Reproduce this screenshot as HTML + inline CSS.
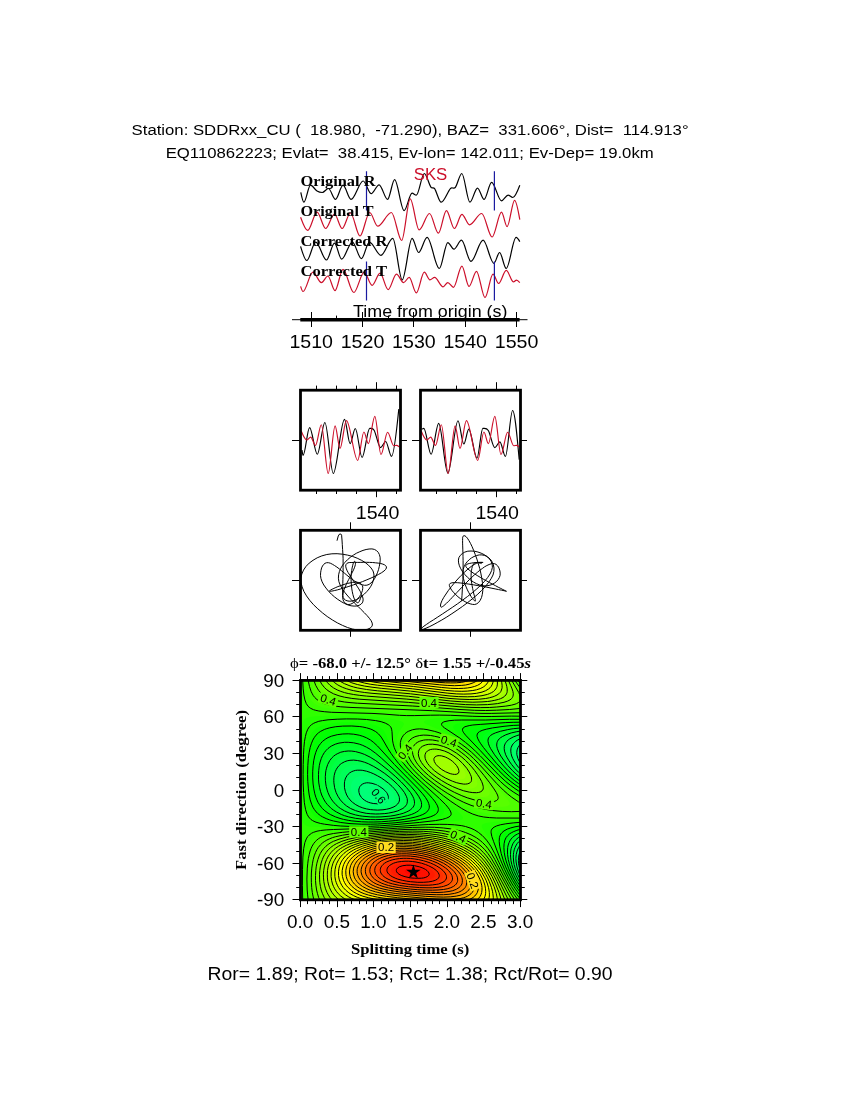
<!DOCTYPE html>
<html lang="en"><head><meta charset="utf-8"><title>SKS splitting SDDRxx_CU</title>
<style>
html,body{margin:0;padding:0;background:#fff}
body{width:850px;height:1100px;overflow:hidden}
svg{display:block}
text{white-space:pre}
</style></head><body>
<svg width="850" height="1100" viewBox="0 0 850 1100">
<rect width="850" height="1100" fill="#fff"/>
<g font-family='"Liberation Sans", sans-serif' fill="#000">
<text xml:space="preserve" x="131.6" y="134.5" font-size="15.4" textLength="557" lengthAdjust="spacingAndGlyphs">Station: SDDRxx_CU (  18.980,  -71.290), BAZ=  331.606°, Dist=  114.913°</text>
<text xml:space="preserve" x="165.7" y="157.7" font-size="15.4" textLength="488" lengthAdjust="spacingAndGlyphs">EQ110862223; Evlat=  38.415, Ev-lon= 142.011; Ev-Dep= 19.0km</text>
</g>
<g fill="none" stroke-width="1.2" stroke-linejoin="round">
<path stroke="#000" d="M300.8 192.3C301.8 197.2 302.9 202.2 303.9 202.2C306.1 202.2 308.3 185.2 310.5 185.2C312.7 185.2 314.8 189.7 317 191C318.8 192.1 320.5 192.5 322.3 192.5C324.3 192.5 326.4 188.5 328.4 188.5C330.8 188.5 333.1 199.4 335.5 199.4C338 199.4 340.5 185.2 343 185.2C345.7 185.2 348.3 199.4 351 199.4C355.1 199.4 359.1 181 363.2 181C365.8 181 368.5 193.7 371.1 193.7C373.8 193.7 376.4 184.8 379.1 184.8C381.9 184.8 384.8 199.4 387.6 199.4C389.9 199.4 392.3 179.6 394.6 179.6C397.8 179.6 400.9 210.6 404.1 210.6C406.8 210.6 409.4 193.2 412.1 193.2C413.5 193.2 414.9 195.1 416.3 195.1C419 195.1 421.6 173.5 424.3 173.5C426.5 173.5 428.7 183.9 430.9 187.1C432.1 188.9 433.4 186.8 434.6 188.6C436.8 191.8 439 202.2 441.2 202.2C444.3 202.2 447.5 191.6 450.6 188.3C452.2 186.6 453.8 189.5 455.4 187.4C457.5 184.6 459.7 173.5 461.8 173.5C464.5 173.5 467.2 202.2 469.9 202.2C472.4 202.2 475 188.1 477.5 188.1C479.7 188.1 481.9 199.4 484.1 199.4C486.6 199.4 489.1 182.4 491.6 182.4C494.9 182.4 498.2 200.8 501.5 200.8C503.7 200.8 505.9 195.1 508.1 195.1C509.7 195.1 511.2 197.5 512.8 197.5C515.1 197.5 517.5 191.3 519.8 185.2"/>
<path stroke="#cc0f2a" d="M300.6 217.2C303 223.8 305.3 230.4 307.7 230.4C310.8 230.4 314 212.1 317.1 212.1C319.9 212.1 322.8 228.5 325.6 228.5C328.6 228.5 331.5 214 334.5 214C337 214 339.6 228.5 342.1 228.5C344.9 228.5 347.7 213 350.5 213C353.7 213 356.8 236 360 236C363.2 236 366.5 212.5 369.7 212.5C372.4 212.5 375 226.2 377.7 226.2C382.3 226.2 386.8 212.5 391.4 212.5C394.8 212.5 398.3 240.5 401.7 240.5C404.5 240.5 407.4 198.9 410.2 198.9C413.2 198.9 416.1 229.9 419.1 229.9C422.6 229.9 426 213.5 429.5 213.5C432.5 213.5 435.4 233.2 438.4 233.2C441.1 233.2 443.7 210.6 446.4 210.6C449.1 210.6 451.7 228.5 454.4 228.5C456.9 228.5 459.4 214.4 461.9 214.4C464.4 214.4 467 224.8 469.5 224.8C473.6 224.8 477.6 213.5 481.7 213.5C485.2 213.5 488.6 237 492.1 237C495.2 237 498.4 212.1 501.5 212.1C503.4 212.1 505.2 226.6 507.1 226.6C509.6 226.6 512.1 200.3 514.6 200.3C516.3 200.3 518.1 209.9 519.8 219.6"/>
<path stroke="#000" d="M300.6 246.4C302.7 253.5 304.7 260.5 306.8 260.5C309.8 260.5 312.7 242.1 315.7 242.1C319.3 242.1 322.9 260 326.5 260C329.2 260 331.8 243.1 334.5 243.1C336.9 243.1 339.2 259.1 341.6 259.1C345.2 259.1 348.8 242.1 352.4 242.1C355.4 242.1 358.4 258.6 361.4 258.6C364.1 258.6 366.7 242.1 369.4 242.1C373.3 242.1 377.1 255.3 381 255.3C384.9 255.3 388.9 238.4 392.8 238.4C395.9 238.4 399.1 279.8 402.2 279.8C405.5 279.8 408.8 238.4 412.1 238.4C414.3 238.4 416.4 252.5 418.6 252.5C421.4 252.5 424.3 237.4 427.1 237.4C431.2 237.4 435.2 268.5 439.3 268.5C442.1 268.5 445 242.6 447.8 242.6C449.8 242.6 451.9 249.2 453.9 249.2C456.4 249.2 459 240.2 461.5 240.2C464.6 240.2 467.8 261.4 470.9 261.4C475 261.4 479 240.2 483.1 240.2C486.7 240.2 490.3 263.3 493.9 263.3C495.8 263.3 497.7 252.5 499.6 252.5C501.8 252.5 504 268.5 506.2 268.5C509.5 268.5 512.8 237.4 516.1 237.4C517.3 237.4 518.6 239.5 519.8 241.6"/>
<path stroke="#cc0f2a" d="M300.6 286.4C301.4 288.9 302.2 291.5 303 291.5C306.3 291.5 309.6 272.2 312.9 272.2C315.7 272.2 318.6 282.6 321.4 282.6C323.6 282.6 325.7 276 327.9 276C330.3 276 332.6 290.6 335 290.6C337.7 290.6 340.3 269.4 343 269.4C346.6 269.4 350.2 292.5 353.8 292.5C357.3 292.5 360.7 272.2 364.2 272.2C366.8 272.2 369.5 285.4 372.1 285.4C374.8 285.4 377.4 273.2 380.1 273.2C382.8 273.2 385.4 289.6 388.1 289.6C390.9 289.6 393.7 274.1 396.5 274.1C398.9 274.1 401.2 282.6 403.6 282.6C405.5 282.6 407.3 277.4 409.2 277.4C411.6 277.4 413.9 292.9 416.3 292.9C419 292.9 421.6 272.2 424.3 272.2C426.2 272.2 428 279.8 429.9 279.8C431.5 279.8 433 277.4 434.6 277.4C437.4 277.4 440.3 286.8 443.1 286.8C444.7 286.8 446.2 282.6 447.8 282.6C449.7 282.6 451.6 287.3 453.5 287.3C456.3 287.3 459.1 266.1 461.9 266.1C464.3 266.1 466.6 286.4 469 286.4C471.5 286.4 474 271.3 476.5 271.3C479.3 271.3 482.2 297.6 485 297.6C487.7 297.6 490.3 274.1 493 274.1C494.9 274.1 496.7 283.5 498.6 283.5C501.1 283.5 503.7 270.4 506.2 270.4C508.4 270.4 510.6 279.5 512.8 281.6C514 282.8 515.3 280.2 516.5 280.2C517.6 280.2 518.7 281.4 519.8 282.6"/>
</g>
<g stroke="#1a1aa0" stroke-width="1.2">
<path d="M366.5 171.2V210.5M366.5 261.5V300.5"/>
<path d="M494.4 171.2V210.5M494.4 261.5V300.5"/>
</g>
<g font-family='"Liberation Serif", serif' font-weight="bold" font-size="15" fill="#000">
<text x="300.4" y="186.3" textLength="75.2" lengthAdjust="spacingAndGlyphs">Original R</text>
<text x="300.4" y="216.3" textLength="73.1" lengthAdjust="spacingAndGlyphs">Original T</text>
<text x="300.4" y="246.3" textLength="87" lengthAdjust="spacingAndGlyphs">Corrected R</text>
<text x="300.4" y="276.3" textLength="86.6" lengthAdjust="spacingAndGlyphs">Corrected T</text>
</g>
<text x="413.7" y="179.6" font-family='"Liberation Sans", sans-serif' font-size="16" fill="#cc0f2a" textLength="33.6" lengthAdjust="spacingAndGlyphs">SKS</text>
<g stroke="#000" fill="none">
<path stroke-width="1" d="M292 319.7H527.5"/>
<path stroke-width="3.6" d="M300.3 319.7H519.6"/>
<path stroke-width="1" d="M311.5 312V327M362.5 312V327M413.5 312V327M465.5 312V327M516.5 312V327M336.5 315.6V319.7M388.5 315.6V319.7M439.5 315.6V319.7M490.5 315.6V319.7"/>
</g>
<g font-family='"Liberation Sans", sans-serif' fill="#000">
<text x="353" y="316.5" font-size="16.2" textLength="154.5" lengthAdjust="spacingAndGlyphs">Time from origin (s)</text>
<text x="311.2" y="348.4" font-size="19" text-anchor="middle" textLength="43.6" lengthAdjust="spacingAndGlyphs">1510</text>
<text x="362.5" y="348.4" font-size="19" text-anchor="middle" textLength="43.6" lengthAdjust="spacingAndGlyphs">1520</text>
<text x="413.9" y="348.4" font-size="19" text-anchor="middle" textLength="43.6" lengthAdjust="spacingAndGlyphs">1530</text>
<text x="465.2" y="348.4" font-size="19" text-anchor="middle" textLength="43.6" lengthAdjust="spacingAndGlyphs">1540</text>
<text x="516.6" y="348.4" font-size="19" text-anchor="middle" textLength="43.6" lengthAdjust="spacingAndGlyphs">1550</text>
</g>
<path d="M316.5 390.2v-4.6M316.5 490.2v3.8M336.5 390.2v-4.6M336.5 490.2v3.8M356.5 390.2v-4.6M356.5 490.2v3.8M376.5 390.2v-8M376.5 490.2v7M396.5 390.2v-4.6M396.5 490.2v3.8M300.5 440.5h-8.5M400.5 440.5h6.5M350.5 530.3v-8M350.5 630.3v6.5M300.5 580.5h-8.5M400.5 580.5h6.5M436.5 390.2v-4.6M436.5 490.2v3.8M456.5 390.2v-4.6M456.5 490.2v3.8M476.5 390.2v-4.6M476.5 490.2v3.8M496.5 390.2v-8M496.5 490.2v7M516.5 390.2v-4.6M516.5 490.2v3.8M420.5 440.5h-8.5M520.5 440.5h6.5M470.5 530.3v-8M470.5 630.3v6.5M420.5 580.5h-8.5M520.5 580.5h6.5" stroke="#000" stroke-width="1" fill="none"/>
<g fill="none" stroke-width="1.15" stroke-linejoin="round">
<path stroke="#000" d="M302 450.2C302.4 452.8 302.7 455.3 303.1 455.3C305.3 455.3 307.4 427.6 309.6 427.6C312.2 427.6 314.7 454.2 317.3 454.2C319.8 454.2 322.4 422.5 324.9 422.5C327.7 422.5 330.5 473.5 333.3 473.5C337 473.5 340.8 419.3 344.5 419.3C346.4 419.3 348.2 443.6 350.1 443.6C351.8 443.6 353.6 428.5 355.3 428.5C357.6 428.5 359.8 457.5 362.1 457.5C364.6 457.5 367.2 428.4 369.7 428.4C371.2 428.4 372.6 427.6 374.1 430.2C376.3 434 378.4 447.6 380.6 447.6C382.3 447.6 384 441.5 385.7 441.5C387.6 441.5 389.6 456.4 391.5 456.4C393.9 456.4 396.4 432.8 398.8 409.1"/>
<path stroke="#cc0f2a" d="M301.3 431.3C303.1 435.6 304.9 440 306.7 440C308 440 309.4 437.1 310.7 437.1C312.3 437.1 313.9 445.5 315.5 445.5C317.4 445.5 319.4 424.7 321.3 424.7C323.6 424.7 325.9 473.5 328.2 473.5C330.5 473.5 332.8 425.8 335.1 425.8C336.7 425.8 338.4 448.5 340 448.5C342.1 448.5 344.3 420.6 346.4 420.6C350.2 420.6 353.9 460.4 357.7 460.4C359.8 460.4 361.8 432 363.9 432C365.4 432 366.9 443.6 368.4 443.6C370.5 443.6 372.7 416.4 374.8 416.4C376.9 416.4 378.9 454.5 381 454.5C383.2 454.5 385.4 432.2 387.6 432.2C389.6 432.2 391.7 445.7 393.7 445.7C394.7 445.7 395.6 445.3 396.6 445.3C397.5 445.3 398.3 446.1 399.2 446.8"/>
<path stroke="#000" d="M422 429.1C422.6 428.8 423.2 428.4 423.8 428.4C426.2 428.4 428.7 454.2 431.1 454.2C433.6 454.2 436.2 423.3 438.7 423.3C441.7 423.3 444.8 473.1 447.8 473.1C451.2 473.1 454.6 420.7 458 420.7C459.9 420.7 461.9 444 463.8 444C465.5 444 467.1 429.1 468.8 429.1C471.5 429.1 474.3 458.2 477 458.2C478.9 458.2 480.9 428.4 482.8 428.4C484.6 428.4 486.5 427.6 488.3 430.5C490.5 434 492.6 447.6 494.8 447.6C496.5 447.6 498.2 441.8 499.9 441.8C501.7 441.8 503.6 456.4 505.4 456.4C507.8 456.4 510.2 410.5 512.6 410.5C514.8 410.5 517 435.1 519.2 459.6"/>
<path stroke="#cc0f2a" d="M421.3 431.3C423.1 435.6 424.9 440 426.7 440C428 440 429.4 437.1 430.7 437.1C432.3 437.1 433.9 445.5 435.5 445.5C437.4 445.5 439.4 424.7 441.3 424.7C443.6 424.7 445.9 473.5 448.2 473.5C450.5 473.5 452.8 425.8 455.1 425.8C456.7 425.8 458.4 448.5 460 448.5C462.1 448.5 464.3 420.6 466.4 420.6C470.2 420.6 473.9 460.4 477.7 460.4C479.8 460.4 481.8 432 483.9 432C485.4 432 486.9 443.6 488.4 443.6C490.5 443.6 492.7 416.4 494.8 416.4C496.9 416.4 498.9 454.5 501 454.5C503.2 454.5 505.4 432.2 507.6 432.2C509.6 432.2 511.7 445.7 513.7 445.7C514.7 445.7 515.6 445.3 516.6 445.3C517.5 445.3 518.3 446.1 519.2 446.8"/>
<path stroke="#000" stroke-width="1" d="M361.6 595.2L360.5 598.5L359.3 601.3L358.2 602.7L357.2 602.7L356.2 602L355.2 600.8L354.4 599.1L353.6 597L352.9 594.5L352.3 591.8L351.8 588.9L351.5 585.8L351.2 582.7L351.1 579.5L351.1 576.4L351.3 573.4L351.7 570.6L352.1 568L352.6 565.8L353.1 563.9L353.6 562.5L354.2 561.6L354.6 561.3L355 561.5L355.3 562.1L355.4 563.1L355.4 564.4L355 566L354.4 567.8L353.5 569.9L352.4 572.1L351.2 574.5L350 576.9L348.7 579.5L347.4 582L346.2 584.6L345.1 587.1L344.2 589.5L343.4 591.8L343 593.9L342.9 595.8L343.2 597.5L344.1 599L345.4 600.1L347.1 600.8L349.2 601.2L351.5 601.1L354 600.5L356.6 599.5L359.3 598L361.9 596.2L364.4 594L366.8 591.6L369 589L370.9 586.2L372.4 583.2L373.4 580.1L374 577L373.9 574L373 570.9L371.1 568L368.5 565.2L365.3 562.6L361.5 560.3L357.2 558.2L352.5 556.4L347.5 555.1L342.4 554.2L337.1 553.7L331.9 553.8L326.8 554.5L321.8 555.9L317.2 557.8L313 560.3L309.2 563.1L306 566.4L303.5 570.1L301.8 574L300.9 578.1L301 582.4L302.1 586.9L303.9 591.4L306.5 595.9L309.7 600.3L313.5 604.7L317.8 608.8L322.4 612.8L327.2 616.5L332.3 619.9L337.4 622.9L342.5 625.4L347.5 627.5L352.3 629L356.8 629.9L360.9 630.1L364.6 629.9L367.6 629.2L370 628.2L371.6 626.8L372.4 625.1L372.2 623.1L371.2 620.8L369.4 618.3L367.1 615.6L364.3 612.7L361.2 609.6L357.9 606.3L354.4 603L351 599.5L347.8 596L344.8 592.4L342.3 588.8L340.3 585.3L338.9 581.7L338.4 578.2L338.6 574.8L339.4 571.5L340.8 568.3L342.6 565.2L344.9 562.4L347.5 559.7L350.3 557.3L353.4 555.1L356.5 553.2L359.8 551.7L363 550.4L366.1 549.5L369.1 549L371.9 548.9L374.4 549.4L376.5 550.6L378.2 552.3L379.4 554.6L380.1 557.2L380.2 560.1L379.9 563.2L379.3 566.4L378.5 569.7L377.4 572.8L376.1 575.8L374.6 578.6L372.9 581L371.1 582.9L369.1 584.4L366.9 585.2L364.6 585.3L362.3 584.8L359.8 583.9L357.3 582.6L354.7 581.1L352.1 579.3L349.5 577.3L346.9 575.2L344.3 573L341.7 570.9L339.3 568.9L336.9 567.1L334.5 565.5L332.3 564.2L330.3 563.2L328.4 562.7L326.6 562.7L325 563.3L323.7 564.4L322.5 566L321.6 567.9L321 570.3L320.6 572.9L320.5 575.7L321 578.7L322.1 581.8L323.8 585L326 588.1L328.5 591.2L331.4 594.2L334.5 596.9L337.8 599.4L341.2 601.6L344.6 603.5L347.9 604.9L351.1 605.8L354.1 606.1L356.8 606L359.1 605.3L360.9 604.3L362.3 602.9L363 601.1L363.1 599.1L362.6 596.8L361.6 594.3L360.4 591.7L358.8 588.9L357 586.1L355.2 583.3L353.2 580.5L351.4 577.7L349.7 575L348.1 572.5L346.9 570.2L346.1 568.1L345.7 566.2L345.9 564.7L346.7 563.6L348 562.8L349.8 562.5L351.9 562.5L354.4 562.4L357.2 562.4L360.2 562.4L363.2 562.3L366.4 562.3L369.5 562.4L372.6 562.5L375.5 562.8L378.2 563.1L380.7 563.5L382.8 564.1L384.5 564.8L385.7 565.7L386.4 566.8L386.4 568L385.6 569.5L384 571L381.6 572.7L378.6 574.4L375.1 576.2L371.1 578L366.9 579.8L362.5 581.6L357.9 583.3L353.4 584.9L348.9 586.4L344.7 587.7L340.8 588.9L337.3 589.9L334.3 590.6L331.9 591.1L330.2 591.3L329.4 591.2L329.4 590.9L330 590.5L330.9 589.9L332.2 589.2L333.9 588.4L335.8 587.5L337.9 586.6L340.2 585.8L342.6 584.9L345.1 584.1L347.6 583.4L350.1 582.9L352.5 582.4L354.7 582.2L356.8 582.2L358.7 582.5L360.2 583.3L361.5 584.3L362.3 585.6L362.8 587.1L362.7 588.8L362.4 590.6L361.7 592.5L360.8 594.4L359.7 596.3L358.3 598.1L356.9 599.8L355.3 601.3L353.7 602.5L352.1 603.5L350.5 604.2L348.9 604.5L347.4 604.4L346 603.8L344.9 602.9L343.9 601.6L343.1 599.9L342.7 597.8L342.6 595.5L342.6 592.9L342.6 589.9L342.7 586.7L342.8 583.3L342.9 579.6L343 575.8L343.1 571.7L343.1 567.5L343.1 563.2L343.1 558.7L342.9 554.1L342.6 549.5L342.3 544.7L342 540L341.6 535.2Q341.0 533.4 339.6 534.0T337.0 540.7"/>
<clipPath id="cb4"><rect x="420.5" y="530.3" width="100" height="100"/></clipPath>
<path stroke="#000" stroke-width="1" clip-path="url(#cb4)" d="M481.6 563.6L480.5 563.3L479.3 563L478.2 562.8L477.2 562.6L476.2 562.5L475.2 562.6L474.4 563L473.6 563.9L472.9 565.2L472.3 566.7L471.8 568.6L471.5 570.7L471.2 572.9L471.1 575.4L471.1 577.9L471.3 580.5L471.7 583.1L472.1 585.7L472.6 588.3L473.1 590.7L473.6 593L474.2 595.1L474.6 596.9L475 598.5L475.3 599.7L475.4 600.6L475.4 601.1L475 601.2L474.4 600.7L473.5 599.8L472.4 598.4L471.2 596.7L470 594.7L468.7 592.4L467.4 589.9L466.2 587.1L465.1 584.3L464.2 581.3L463.4 578.3L463 575.3L462.9 572.3L463.2 569.4L464.1 566.7L465.4 564.1L467.1 561.8L469.2 559.7L471.5 557.9L474 556.5L476.6 555.5L479.3 554.9L481.9 554.9L484.4 555.4L486.8 556.4L489 558L490.9 559.9L492.4 562.3L493.4 565L494 568.1L493.9 571.4L493 575L491.1 578.7L488.5 582.6L485.3 586.6L481.5 590.6L477.2 594.7L472.5 598.7L467.5 602.7L462.4 606.5L457.1 610.2L451.9 613.7L446.8 617L441.8 620L437.2 622.6L433 624.9L429.2 626.8L426 628.2L423.5 629.2L421.8 629.5L420.9 629.4L421 628.8L422.1 627.7L423.9 626.2L426.5 624.4L429.7 622.2L433.5 619.8L437.8 617L442.4 614L447.2 610.8L452.3 607.4L457.4 603.9L462.5 600.2L467.5 596.5L472.3 592.7L476.8 588.9L480.9 585.1L484.6 581.3L487.6 577.6L490 574L491.6 570.6L492.4 567.3L492.2 564.3L491.2 561.5L489.4 558.9L487.1 556.6L484.3 554.7L481.2 553.2L477.9 552L474.4 551.2L471 551L467.8 551.2L464.8 552.1L462.3 553.5L460.3 555.4L458.9 557.6L458.4 560.1L458.6 562.9L459.4 565.8L460.8 568.8L462.6 571.8L464.9 574.6L467.5 577.3L470.3 579.8L473.4 582L476.5 583.7L479.8 585L483 585.8L486.1 585.9L489.1 585.4L491.9 584.5L494.4 583.1L496.5 581.5L498.2 579.5L499.4 577.4L500.1 575.3L500.2 573.1L499.9 570.9L499.3 568.9L498.5 567.1L497.4 565.6L496.1 564.4L494.6 563.7L492.9 563.6L491.1 563.8L489.1 564.5L486.9 565.5L484.6 566.8L482.3 568.5L479.8 570.3L477.3 572.4L474.7 574.6L472.1 577L469.5 579.5L466.9 582.1L464.3 584.7L461.7 587.4L459.3 590L456.9 592.5L454.5 595L452.3 597.3L450.3 599.5L448.4 601.4L446.6 603.2L445 604.6L443.7 605.8L442.5 606.6L441.6 607.1L441 607.2L440.6 606.5L440.5 605L441 603L442.1 600.4L443.8 597.3L446 594L448.5 590.3L451.4 586.6L454.5 582.8L457.8 579L461.2 575.4L464.6 572.1L467.9 569.1L471.1 566.5L474.1 564.5L476.8 563.1L479.1 562.5L480.9 562.5L482.3 562.5L483 562.4L483.1 562.4L482.6 562.4L481.6 562.3L480.4 562.3L478.8 562.4L477 562.5L475.2 562.6L473.2 562.8L471.4 563.1L469.7 563.4L468.1 563.8L466.9 564.4L466.1 565L465.7 565.7L465.9 566.6L466.7 567.8L468 569.1L469.8 570.5L471.9 572.1L474.4 573.8L477.2 575.5L480.2 577.3L483.2 579.1L486.4 580.8L489.5 582.6L492.6 584.2L495.5 585.7L498.2 587.2L500.7 588.4L502.8 589.5L504.5 590.3L505.7 590.9L506.4 591.2L506.4 591.3L505.6 591.1L504 590.7L501.6 590.2L498.6 589.6L495.1 588.9L491.1 588.1L486.9 587.2L482.5 586.4L477.9 585.6L473.4 584.8L468.9 584.1L464.7 583.5L460.8 583L457.3 582.7L454.3 582.6L451.9 582.8L450.2 583.4L449.4 584.4L449.4 585.7L450 587.2L450.9 589L452.2 590.8L453.9 592.8L455.8 594.7L457.9 596.7L460.2 598.5L462.6 600.2L465.1 601.7L467.6 602.9L470.1 603.8L472.5 604.4L474.7 604.5L476.8 603.8L478.7 602.4L480.2 600.3L481.5 597.6L482.3 594.4L482.8 590.7L482.7 586.7L482.4 582.3L481.7 577.8L480.8 573.1L479.7 568.4L478.3 563.7L476.9 559.1L475.3 554.7L473.7 550.5L472.1 546.7L470.5 543.4L468.9 540.5L467.4 538.2L466 536.6L464.9 535.8L463.9 535.7L463.1 536.2L462.7 537.2L462.6 538.8L462.6 540.7L462.6 543.1L462.7 545.9L462.8 549.1L462.9 552.6L463 556.4L463.1 560.6L463.1 565L463.1 569.6L463.1 574.4L462.9 579.5L462.6 584.6L462.3 589.9L462 595.3L461.6 600.8"/>
</g>
<rect x="300.5" y="390.2" width="100" height="100" fill="none" stroke="#000" stroke-width="2.8"/>
<rect x="300.5" y="530.3" width="100" height="100" fill="none" stroke="#000" stroke-width="2.8"/>
<rect x="420.5" y="390.2" width="100" height="100" fill="none" stroke="#000" stroke-width="2.8"/>
<rect x="420.5" y="530.3" width="100" height="100" fill="none" stroke="#000" stroke-width="2.8"/>
<g font-family='"Liberation Sans", sans-serif' fill="#000" font-size="19">
<text x="377.6" y="518.7" text-anchor="middle" textLength="43.6" lengthAdjust="spacingAndGlyphs">1540</text>
<text x="497.2" y="518.7" text-anchor="middle" textLength="43.6" lengthAdjust="spacingAndGlyphs">1540</text>
</g>
<g shape-rendering="geometricPrecision">
<rect x="300.5" y="680.4" width="220.0" height="219.4" fill="#ff0500"/>
<g stroke="none">
<path fill="#ff1000" fill-rule="evenodd" d="M300.5 899.8l220 0 0-219.4-220 0 0 219.4zM410.5 874.5l-3.7-1.2-2-1.5-0.1-1.3 0.3-0.3 1.1-0.9 2.6-0.6 3.6 0 3.7 0.7 2.6 1.1 1.1 0.9 0.4 0.4 0.3 1.2-1.2 1.2-1.4 0.4-3.6 0.3-3.7-0.4z"/>
<path fill="#ff1a00" fill-rule="evenodd" d="M300.5 899.8l220 0 0-219.4-220 0 0 219.4zM410.5 877.9l-5.5-1.2-3.8-1.3-2.2-1.2-1.5-1.2-0.9-1.2-0.3-1.3 0.2-1.2 0.9-1.2 2.1-1.4 3.3-1 4-0.5 3.7 0 4.1 0.5 5.1 1.2 3.2 1.2 2.4 1.2 1.7 1.2 1.2 1.3 0.8 1.2 0.2 1.2-0.4 1.2-1.5 1.2-2.1 0.9-3.7 0.7-3.7 0.1-7.3-0.4z"/>
<path fill="#ff2400" fill-rule="evenodd" d="M300.5 899.8l220 0 0-219.4-220 0 0 219.4zM414.2 880.4l-9.2-1.3-4.5-1.2-4.7-2-2.5-1.7-1.2-1.2-0.7-1.2-0.3-1.3 0.1-1.2 0.5-1.2 1-1.2 1.3-1 3-1.4 4.3-1.1 5.5-0.5 5.8 0.3 6.6 1.3 4.1 1.2 5.4 2.4 3.5 2.4 2.1 2.5 0.4 1.2 0.1 1.2-0.5 1.2-1.2 1.3-2.4 1.2-5.5 1.2-5.5 0.3-5.5-0.2z"/>
<path fill="#ff2f00" fill-rule="evenodd" d="M300.5 899.8l220 0 0-219.4-220 0 0 219.4zM410.5 881.7l-8.2-1.4-6.5-1.9-3.6-1.7-1.9-1.2-1.5-1.3-1-1.2-0.6-1.2-0.3-1.3 0.1-1.2 0.4-1.2 0.7-1.2 1.2-1.2 1.8-1.2 2.5-1.3 2.2-0.7 5.5-1 7.4-0.3 7.3 0.8 5.5 1.2 7 2.5 4.6 2.4 3.3 2.4 1.6 1.9 1 1.8 0.3 1.2-0.1 1.2-0.6 1.3-0.6 0.7-2.7 1.7-2.8 0.9-3.7 0.7-5.5 0.4-5.5 0-7.3-0.6z"/>
<path fill="#ff3900" fill-rule="evenodd" d="M300.5 899.8l220 0 0-219.4-220 0 0 219.4zM408.7 882.9l-9.2-1.6-7.1-2.2-4.6-2.5-1.6-1.2-2-2.4-0.8-2.5 0.1-1.2 0.9-2.4 1-1.2 1.3-1.2 3.6-2.1 5.5-1.8 7.4-0.9 7.3 0.1 7.3 1 7.4 1.9 7.3 2.9 4.3 2.5 3 2.4 1.2 1.3 0.9 1.2 1.1 2.4 0.1 1.2-0.2 1.3-1.2 1.8-2.7 1.8-3.7 1.2-4.6 0.8-7.4 0.4-7.3-0.2-7.3-0.8z"/>
<path fill="#ff4400" fill-rule="evenodd" d="M300.5 899.8l220 0 0-219.4-220 0 0 219.4zM419.7 885.2l-9.2-0.7-9.2-1.3-7.3-1.8-6-2.3-4-2.5-1.3-1.2-1.8-2.4-0.4-1.2-0.2-2.5 0.8-2.4 1.9-2.4 1.6-1.3 2-1.2 2.8-1.2 6.4-1.7 7.4-0.8 7.3 0.2 8 1.1 8.5 2.2 6.8 2.7 2.4 1.2 3.9 2.4 2.9 2.4 2.1 2.5 1.2 2.4 0.2 1.2 0 1.3-0.4 1.2-0.7 1.2-1.3 1.2-2.1 1.2-3.5 1.3-2.3 0.4-7.4 0.8-9.1 0z"/>
<path fill="#ff4e00" fill-rule="evenodd" d="M300.5 899.8l220 0 0-219.4-220 0 0 219.4zM419.7 886.5l-11-1-9.2-1.4-7.3-1.7-5.7-2.1-4.3-2.4-1.5-1.3-2.1-2.4-1-2.4-0.2-1.3 0.1-1.6 0.7-2 1.1-1.8 1.9-1.9 1.8-1.2 3.7-1.9 3.6-1.2 3.7-0.9 7.3-0.9 9.2 0.2 8.2 1.1 8.3 2 7.6 2.8 6.7 3.7 3.2 2.4 2.5 2.5 1.7 2.4 0.8 2.4 0 2.5-0.5 1.3-1.8 2-1.9 1.2-1.8 0.8-3.7 1.1-3.6 0.6-5.5 0.4-11 0z"/>
<path fill="#ff5900" fill-rule="evenodd" d="M300.5 899.8l220 0 0-219.4-220 0 0 219.4zM419.7 887.6l-11-0.9-9.2-1.3-7.3-1.6-3.7-1.1-3.7-1.4-3.6-1.9-2.2-1.5-1.5-1.4-1.7-2.3-0.6-1.2-0.5-2.5 0.3-2.4 0.4-1.2 1.6-2.4 1.2-1.3 3-2.2 2.8-1.4 3.1-1.2 5.1-1.4 3.6-0.6 5.5-0.5 9.2 0.2 9.2 1.3 9.1 2.3 3.7 1.3 5.3 2.2 4.4 2.5 3.5 2.4 2.8 2.4 2 2.5 1.4 2.4 0.6 2.5-0.3 2.4-0.6 1.2-0.9 1.2-1.5 1.3-2 1.1-5.5 1.7-3.7 0.5-5.5 0.5-12.8-0.2z"/>
<path fill="#ff6300" fill-rule="evenodd" d="M300.5 899.8l220 0 0-219.4-220 0 0 219.4zM421.5 888.8l-12.8-1-10.4-1.4-8-1.7-7.3-2.5-3.7-1.9-1.8-1.2-1.8-1.5-1.9-2.2-0.7-1.2-0.8-2.4-0.1-2.5 0.7-2.4 1.5-2.4 2.4-2.5 2.5-1.7 3.7-1.9 3.6-1.3 3.7-0.9 3.7-0.7 5.5-0.6 9.2 0 5.5 0.5 5.5 0.8 9.1 2.3 3.7 1.2 5.5 2.2 4.9 2.6 3.8 2.4 3 2.4 3 3.3 1.7 2.8 0.7 2.5 0 2.4-1.1 2.4-1 1.3-1.6 1.2-2.3 1.2-5.6 1.6-3.7 0.5-5.5 0.5-12.8-0.2z"/>
<path fill="#ff6d00" fill-rule="evenodd" d="M300.5 899.8l220 0 0-219.4-220 0 0 219.4zM425.2 890.1l-14.7-1-11.7-1.5-10.3-2.1-7.3-2.5-3.7-1.9-3-2-1.3-1.2-1.9-2.5-1.1-2.4-0.3-1.2 0-2.5 0.6-2.4 1.4-2.4 2.2-2.5 3.3-2.4 2.3-1.2 3.3-1.4 5.5-1.6 3.7-0.8 5.5-0.6 9.1-0.2 5.5 0.4 5.5 0.7 5.5 1 4.9 1.2 4.3 1.4 5.5 2.1 5.4 2.6 4 2.5 3.4 2.6 3.5 3.5 2.4 3.6 0.8 2.5 0.2 2.4-0.7 2.4-0.7 1.3-1.2 1.2-1.6 1.2-2.7 1.3-3.6 1.1-3.7 0.7-5.5 0.5-12.8 0.1z"/>
<path fill="#ff7800" fill-rule="evenodd" d="M300.5 899.8l220 0 0-219.4-220 0 0 219.4zM428.8 891.3l-14.6-0.9-14.7-1.6-11-2.1-5.4-1.5-3.3-1.2-4.1-2.1-2.5-1.6-1.5-1.2-2.1-2.5-1.4-2.4-0.6-2.4 0-2.5 0.6-2.4 1.3-2.4 2-2.5 2.3-1.9 2.9-1.7 4.5-2.1 3.6-1.2 3.7-0.9 5.5-0.9 5.5-0.4 5.5-0.1 5.5 0.2 5.5 0.6 5.5 0.9 6.2 1.4 4.8 1.4 5.5 2.1 5.5 2.5 4.4 2.6 3.5 2.4 4 3.6 2.8 3.6 1.2 2.5 0.7 2.5 0 1.2-0.4 2.4-1.3 2.5-1.3 1.2-2.6 1.7-3.7 1.4-3.6 0.9-5.5 0.7-5.5 0.2-7.4 0z"/>
<path fill="#ff8200" fill-rule="evenodd" d="M300.5 899.8l220 0 0-219.4-220 0 0 219.4zM412.3 891.3l-12.8-1.4-11-2-5.5-1.4-3.7-1.3-5.5-2.5-1.8-1.2-2.9-2.4-1.9-2.5-1.3-2.4-0.5-2.4 0-2.5 0.6-2.4 1.2-2.4 2-2.5 2.8-2.4 3.7-2.3 3.6-1.6 5.5-1.7 5.5-1.2 5.5-0.7 5.5-0.3 5.5 0.1 7.4 0.5 7.1 1.1 5.6 1.2 5.6 1.6 5.9 2.1 5.5 2.4 4.4 2.4 4.4 3 3.6 3.1 3.2 3.7 2 3.6 0.9 3.7-0.2 2.4-1 2.5-2.2 2.4-2.7 1.7-3.6 1.4-3.7 0.8-5.5 0.7-5.5 0.3-7.3-0.1-18.4-1.1z"/>
<path fill="#ff8d00" fill-rule="evenodd" d="M300.5 899.8l220 0 0-219.4-220 0 0 219.4zM416 892.6l-14.7-1.5-12.8-2-9.2-2.5-6.2-2.6-2.9-1.8-2.4-1.9-2.2-2.4-1.4-2.5-0.8-2.4-0.2-2.5 0.3-2.4 0.9-2.4 1.5-2.5 2.4-2.6 2.9-2.2 4.5-2.5 5.5-2 5.5-1.4 5.5-0.9 5.5-0.6 5.5-0.1 7.3 0.3 7.3 0.8 5.5 0.9 5.5 1.3 5.9 1.7 6.5 2.5 5.2 2.4 4.4 2.6 4.9 3.5 3.8 3.6 2.8 3.7 1.7 3.7 0.6 3.6-0.3 2.5-0.4 1.2-1.7 2.4-2.2 1.8-3.7 1.8-3.6 1.1-5.5 0.9-5.5 0.3-7.4 0.1-18.3-1z"/>
<path fill="#ff9700" fill-rule="evenodd" d="M300.5 899.8l220 0 0-219.4-220 0 0 219.4zM417.8 893.7l-16.5-1.6-12.8-1.9-9.2-2.2-3.6-1.3-3.7-1.7-3.9-2.3-2.8-2.4-2-2.4-1.3-2.5-0.7-2.4-0.1-3.7 0.6-2.4 1.1-2.4 1.8-2.5 3.6-3.4 3.7-2.2 3.7-1.8 5.5-1.8 5.5-1.3 5.5-0.9 7.3-0.5 5.5-0.1 7.3 0.4 5.5 0.7 7.4 1.3 5.5 1.3 7.1 2.2 5.7 2.3 5.2 2.6 5.9 3.7 4.4 3.6 3.4 3.7 2.5 3.6 1.4 3.7 0.4 3.6-0.4 2.5-0.5 1.2-1.7 2.4-2.3 1.8-3.6 1.8-3.7 1-5.5 0.9-5.5 0.4-7.3 0-18.4-1z"/>
<path fill="#ffa100" fill-rule="evenodd" d="M300.5 899.8l220 0 0-219.4-220 0 0 219.4zM421.5 895l-18.3-1.7-12.9-1.7-5.5-1-5.5-1.4-3.6-1.1-4.2-1.7-3.2-1.7-2.8-2-2.7-2.4-1.8-2.5-1.1-2.4-0.8-3.6 0.3-3.7 0.9-2.4 2.2-3.7 2.4-2.4 3.2-2.5 3.9-2.1 5.5-2.2 5.5-1.5 5.5-1.1 5.5-0.7 5.5-0.3 7.3 0 7.4 0.5 7.3 1 7.3 1.6 5.5 1.5 6.3 2.1 5.7 2.5 6.4 3.4 5.5 3.9 4 3.6 3 3.7 2.1 3.7 0.9 2.4 0.5 2.4-0.1 3.7-0.9 2.4-0.8 1.2-2.5 2.5-2.6 1.5-3.6 1.3-5.5 1.2-5.5 0.5-7.4 0.1-18.3-0.9z"/>
<path fill="#ffac00" fill-rule="evenodd" d="M300.5 899.8l220 0 0-219.4-220 0 0 219.4zM425.2 896.3l-22-2-14.1-1.8-6.1-1.2-5.1-1.3-4.1-1.2-3.6-1.5-4-2.1-3.3-2.5-2.4-2.4-1.6-2.4-1.1-2.5-0.7-3.6 0.4-3.7 0.8-2.4 2.1-3.7 2.3-2.4 3-2.5 4.2-2.4 3.9-1.7 6-2 5.4-1.2 7-1 5.5-0.4 7.3-0.1 7.3 0.4 7.4 0.9 7.3 1.3 5.5 1.4 7.3 2.3 6.3 2.5 6.6 3.4 5.5 3.6 4.6 4 3.2 3.7 1.7 2.4 1.4 2.4 0.9 2.5 0.6 2.4 0.1 3.7-0.6 2.4-0.6 1.2-2.2 2.7-3.2 2.2-4.1 1.6-3.7 0.8-5.5 0.7-7.3 0.3-7.3-0.2-11-0.6z"/>
<path fill="#ffb600" fill-rule="evenodd" d="M300.5 899.8l220 0 0-219.4-220 0 0 219.4zM427 897.4l-23.8-2.1-14.7-1.8-11-2.3-5.5-1.7-3.7-1.5-3.6-2-3.7-2.7-2.8-3-1.5-2.4-0.9-2.5-0.6-3.6 0.3-3.7 0.8-2.4 2.1-3.7 2.1-2.4 2.9-2.5 4.9-2.9 5.5-2.4 5.5-1.6 5.5-1.2 7.4-1 5.5-0.4 7.3-0.1 7.3 0.4 7.4 0.8 7.3 1.3 7.3 1.8 7.4 2.4 5.5 2.3 6 3.1 5.7 3.6 4.8 4 4.1 4.6 3 4.8 1.4 3.7 0.5 2.4 0 2.5-0.8 3.6-1.5 2.5-1.2 1.3-1.9 1.4-3.6 1.9-5.5 1.4-5.5 0.7-7.4 0.3-7.3-0.2-11-0.7z"/>
<path fill="#ffc100" fill-rule="evenodd" d="M300.5 899.8l220 0 0-219.4-220 0 0 219.4zM428.8 898.6l-25.6-2.3-16.5-2.1-11-2.3-5.5-1.7-3.3-1.4-4.5-2.4-3.2-2.4-2.3-2.5-2.3-3.6-0.9-2.9-0.5-3.2 0.4-3.7 1.3-3.6 2.4-3.7 2.4-2.4 3.1-2.5 5.5-3 4.7-1.9 6.3-1.8 5.5-1.1 7.4-1 7.3-0.4 7.3 0 7.4 0.5 7.3 0.9 7.3 1.4 7.4 1.9 6.2 2.1 6.6 2.7 6.3 3.4 5.5 3.6 4.7 4.1 3.9 4.5 3.1 4.8 1.7 4.9 0.4 2.5 0 2.4-0.9 3.6-1.5 2.5-1.2 1.3-1.8 1.4-3.7 1.9-5.5 1.5-5.5 0.7-7.3 0.2-7.4-0.2-11-0.7z"/>
<path fill="#ffcb00" fill-rule="evenodd" d="M300.5 899.8l130.3 0-24-2.2-14.6-1.5-11-1.7-7.4-1.7-7.3-2.5-5.5-2.9-4.2-3.3-2.1-2.5-1.6-2.4-1-2.5-0.7-3.6 0.1-3.7 0.6-2.4 1.6-3.6 1.6-2.5 2.3-2.4 3.4-2.8 3.7-2.2 5.2-2.4 3.9-1.3 5.5-1.4 5.5-1.1 5.5-0.7 5.5-0.5 7.4-0.2 9.1 0.4 9.2 1.1 9.2 1.8 7.4 1.9 7.2 2.6 7.8 3.5 6.9 4.2 5.5 4.4 4.6 4.8 2.6 3.7 1.4 2.4 1 2.5 1.1 3.6 0.3 2.5 0 2.4-1 3.7-0.8 1.5-1.9 2.2-1.8 1.4-3.7 1.9-5.4 1.5 58.6 0 0-219.4-57.5 0-6.7 1-7.3 0.2-9.2-0.3-10.9-0.9-128.4 0 0 219.4z"/>
<path fill="#ffd500" fill-rule="evenodd" d="M300.5 899.8l118.6 0-21.4-2.1-11-1.3-9.2-1.6-8.7-2.3-6-2.5-3.6-2-2.2-1.6-2.6-2.4-2-2.5-1.3-2.4-0.9-2.5-0.7-3.6 0.2-3.7 0.9-3.6 1.2-2.5 1.6-2.4 2.1-2.4 2.8-2.5 3.8-2.4 4.4-2.2 3.7-1.4 9.1-2.5 11-1.7 5.5-0.5 7.4-0.2 9.1 0.4 9.2 1 9.2 1.8 7.3 1.9 7.3 2.5 7.6 3.3 6.5 3.7 6.1 4.5 5.2 5.2 3.6 4.9 1.9 3.7 1 2.4 1.1 4.9 0.1 2.4-0.3 2.4-0.8 2.5-0.8 1.4-1.8 2.2-1.5 1.3-2.2 1.3-2.6 1.1 52.1 0 0-219.4-51.4 0-3.6 1.1-3.7 0.8-5.5 0.5-5.5 0.1-12.8-0.6-20.1-1.9-117.4 0 0 219.4z"/>
<path fill="#ffe000" fill-rule="evenodd" d="M300.5 899.8l107.8 0-18-1.9-11-1.6-9.1-2.1-7.4-2.6-5.5-3-2.9-2.2-2.4-2.4-1.7-2.5-1.3-2.4-0.8-2.5-0.5-2.4 0-3.7 0.4-2.4 1.2-3.6 1.3-2.5 1.8-2.4 2.3-2.5 3.1-2.4 4-2.4 4.7-2.1 3.7-1.4 9.1-2.3 11-1.6 5.5-0.5 7.4-0.1 9.1 0.3 9.2 1 9.2 1.7 7.3 1.9 7.3 2.4 7.4 3.1 6.7 3.7 5.3 3.6 5.4 4.9 4.6 5.6 3.1 5.4 1 2.4 1 3.7 0.4 2.4 0 2.4-0.3 2.5-0.8 2.4-0.8 1.4-1.8 2.3-3.3 2.4 47.3 0 0-219.4-46.9 0-4.4 1.9-3.7 1-5.5 0.7-7.3 0.3-12.9-0.7-32.3-3.2-107 0 0 219.4z"/>
<path fill="#ffea00" fill-rule="evenodd" d="M300.5 899.8l97.1 0-14.6-1.7-10.4-2-8.4-2.4-3.2-1.3-3.7-1.9-2.5-1.7-2.9-2.4-2.1-2.4-1.6-2.5-1.2-2.4-0.7-2.5-0.4-2.4-0.1-3.7 0.7-3.6 0.9-2.4 1.3-2.5 1.7-2.4 2.2-2.5 3-2.4 3.6-2.3 2.5-1.4 4.8-1.9 3.7-1.3 9.1-2.2 11-1.5 5.5-0.4 7.4-0.2 9.1 0.3 9.2 1 8 1.4 8.5 2 7.3 2.4 7.4 3 6.7 3.5 5.5 3.7 5.6 4.9 4.3 4.8 3.5 5.5 2.4 5.5 1 3.7 0.3 2.4 0 2.4-0.3 2.5-0.8 2.4-0.7 1.4-1.8 2.3-1.4 1.2 43.5 0 0-219.4-43.2 0-1.7 1.2-2.4 1.2-4 1.4-3.7 0.8-3.7 0.4-7.3 0.3-7.3-0.3-7.4-0.6-42.7-4.4-96.6 0 0 219.4z"/>
<path fill="#fff500" fill-rule="evenodd" d="M300.5 899.8l87.1 0-11.9-1.8-9.2-2.1-5.5-1.9-3.2-1.5-2.3-1.3-3.4-2.4-2.6-2.4-2-2.4-1.4-2.5-1.1-2.4-0.6-2.5-0.5-3.6 0.3-3.7 0.5-2.4 0.9-2.4 1.2-2.5 1.6-2.4 2.2-2.5 2.8-2.4 2.1-1.5 3.7-2.2 3.6-1.6 3.7-1.4 5.5-1.6 9.2-2 11-1.3 11-0.4 9.1 0.4 9.2 0.9 9.2 1.6 7.3 1.7 7.3 2.3 7.4 2.9 6.6 3.4 6.2 4 5.4 4.6 4.4 4.8 4.2 6.1 2.5 5.4 1.5 5.6 0.3 4.9-0.3 2.4-0.8 2.4-0.7 1.5-1.7 2.2 40.2 0 0-219.4-40 0-2.2 2-1.8 1.1-1.8 0.9-3.7 1.2-3.7 0.7-3.6 0.5-7.4 0.3-7.3-0.3-7.3-0.6-54.3-5.8-86.9 0 0 219.4z"/>
<path fill="#ffff00" fill-rule="evenodd" d="M300.5 899.8l78.5 0-10.7-2.1-5.5-1.5-3.3-1.3-5.8-2.9-2.8-2-2.7-2.4-2.1-2.4-1.5-2.5-1.1-2.4-1-3.7-0.4-2.4 0.1-3.7 0.7-3.6 0.8-2.4 1.2-2.5 1.6-2.4 2-2.5 2.7-2.4 5.5-3.7 6.1-2.8 9.2-2.8 9.2-1.8 11-1.2 11-0.4 9.1 0.3 9.2 0.9 9.2 1.5 7.3 1.7 7.3 2.2 7.4 2.9 6.6 3.2 6.2 3.9 5.5 4.5 4.8 5 4.4 6.1 2.5 4.9 2.2 6.1 0.6 3.6 0.2 2.5-0.1 2.4-0.5 2.4-1 2.5-0.8 1.2 37.2 0 0-219.4-37 0-1.5 1.8-1.8 1.6-2.6 1.5-2.9 1.1-3.7 1-3.7 0.6-9.1 0.5-7.4-0.2-9.1-0.8-27.5-3.2-25.7-2.6-9.7-1.3-78.3 0 0 219.4z"/>
<path fill="#f4ff00" fill-rule="evenodd" d="M300.5 899.8l71.2 0-8.9-2.2-7.3-2.8-3.7-2-2.1-1.5-2.8-2.5-2.2-2.4-1.6-2.4-1.6-3.7-0.7-2.4-0.5-3.7 0.1-3.7 0.4-2.4 1.1-3.6 1.1-2.5 1.5-2.4 2-2.5 4-3.6 3.2-2.1 2.8-1.6 6.3-2.6 9.2-2.7 9.2-1.7 11-1.2 11-0.4 9.1 0.3 9.2 0.9 8.7 1.3 7.8 1.8 7.3 2.1 7.4 2.8 6.4 3.1 6.4 3.8 5.5 4.3 5.3 5.3 3.9 5.1 3.4 5.9 2.4 6.1 1.4 6 0 4.9-0.4 2.5-1 2.4 34.5 0 0-219.4-34.3 0-1.6 2.4-2.6 2.4-2.2 1.3-2.9 1.2-4.1 1.1-3.6 0.6-9.2 0.5-9.2-0.3-9.1-0.9-27.5-3.3-29.4-3-13.2-2-71.1 0 0 219.4z"/>
<path fill="#eaff00" fill-rule="evenodd" d="M300.5 899.8l65 0-8.2-2.5-3.6-1.6-3.6-2-4.6-3.7-2.2-2.4-1.6-2.4-1.3-2.5-1.3-3.6-0.6-3.7 0-3.6 0.5-3.7 0.6-2.4 1.5-3.7 1.5-2.4 3-3.7 4.4-3.7 3.7-2.2 2.7-1.4 6.4-2.5 8.7-2.4 9.7-1.7 11-1.1 11-0.4 7.3 0.1 7.3 0.6 7.4 0.8 7.3 1.3 7 1.7 5.8 1.7 7.4 2.6 5.5 2.5 7.3 4.2 6.2 4.8 3 2.7 3 3.4 4.5 6.1 2.1 3.6 1.8 3.7 1.4 3.7 1 3.6 0.7 3.7 0.2 3.6-0.2 2.5-0.6 2.4 31.9 0 0-219.4-31.8 0-1.1 2.4-2 2.5-1.8 1.4-3.6 1.9-3.7 1.2-3.7 0.7-5.5 0.6-5.5 0.2-7.3-0.2-9.2-0.7-31.8-3.9-28.7-2.9-11-1.5-8.4-1.7-64.9 0 0 219.4z"/>
<path fill="#e0ff00" fill-rule="evenodd" d="M300.5 899.8l59.5 0-6.6-2.4-3.4-1.8-3-1.9-2.9-2.4-2.2-2.5-1.7-2.4-1.3-2.4-1-2.5-0.9-3.6-0.4-3.7 0.1-3.7 0.7-3.6 0.8-2.4 1.7-3.7 1.6-2.4 3.2-3.7 2.9-2.4 2.4-1.6 6.4-3.3 6.8-2.4 8.8-2.2 9.2-1.6 11-1.1 11-0.4 9.1 0.3 7.4 0.5 7.3 1 7.3 1.3 7.4 1.8 5.5 1.7 7.3 2.7 5.5 2.6 7.3 4.4 6.1 4.8 3.1 3 2.7 3.1 4.4 6.1 3.8 7.3 2.7 7.3 1.1 6.1 0.1 3.7-0.4 2.4 29.6 0 0-219.4-29.5 0-1.3 3.7-1.9 2.4-2.1 1.7-3.7 1.8-3.7 1.2-5.5 1-5.5 0.4-5.5 0.1-7.3-0.2-9.2-0.8-31.6-4-32.5-3.3-12.9-2-8.3-2-59.5 0 0 219.4z"/>
<path fill="#d5ff00" fill-rule="evenodd" d="M300.5 899.8l54.6 0-3.3-1.3-3.6-1.9-2.6-1.7-2.9-2.4-2.3-2.5-1.8-2.4-2.3-4.9-0.8-2.4-0.6-3.7-0.1-3.6 0.3-3.7 0.8-3.6 0.9-2.5 1.9-3.6 1.7-2.5 3.4-3.6 5.1-3.7 6.6-3.3 7.3-2.5 9.2-2.1 9.2-1.5 11-1 11-0.4 9.1 0.2 7.4 0.5 7.3 0.9 7.3 1.3 7.4 1.8 7.3 2.2 5.5 2.1 6.6 3 6.2 3.7 6.4 4.9 2.8 2.7 3.1 3.4 4.5 6.1 4.1 7.3 3 7.3 1.7 7.3 0.4 3.7-0.1 2.4 27.3 0 0-219.4-27.3 0-0.8 3.7-1.3 2.4-2.4 2.4-3 1.8-3.7 1.4-5.5 1.2-5.5 0.6-7.3 0.2-7.4-0.2-9.1-0.8-34.9-4.3-34.8-3.6-12.8-2.1-5.5-1.4-4.1-1.3-54.6 0 0 219.4z"/>
<path fill="#cbff00" fill-rule="evenodd" d="M300.5 899.8l50.2 0-2.6-1.2-3.6-2.2-2-1.5-2.6-2.4-2-2.5-1.6-2.4-1.2-2.4-1.2-3.7-0.6-2.4-0.4-3.7 0.1-3.6 0.5-3.7 1-3.6 0.9-2.5 2.1-3.6 1.8-2.5 3.7-3.6 5.4-3.7 7.1-3.2 7.3-2.3 9.2-2.1 11-1.6 11-0.9 11-0.3 9.2 0.3 7.3 0.6 7.3 1 7.4 1.3 7.3 1.8 5.8 1.8 7 2.6 5.5 2.6 7.4 4.4 5.5 4.4 5.3 5.5 4.6 6 4.3 7.4 3.2 7.3 1.3 3.6 1.2 4.9 0.6 3.7 0.1 2.4 25.2 0 0-219.4-25.1 0-0.4 3.7-0.8 2.4-1.7 2.4-1.4 1.3-1.9 1.2-3.5 1.5-5.5 1.4-7.4 0.9-7.3 0.3-9.2-0.3-9.1-0.8-34.9-4.4-38.5-3.9-7.3-1.2-5.5-1.1-5.5-1.5-4.9-1.9-50.1 0 0 219.4z"/>
<path fill="#c0ff00" fill-rule="evenodd" d="M300.5 899.8l46 0-2.2-1.2-3.5-2.5-2.5-2.4-2-2.4-1.6-2.5-1.2-2.4-1-2.4-0.9-3.7-0.5-3.7 0-3.6 0.8-6.1 1.1-3.7 1.1-2.4 2.2-3.7 1.9-2.4 4-3.7 5.8-3.6 5.7-2.5 7.4-2.4 9.1-2 11-1.6 12.8-1.1 11-0.3 9.2 0.2 7.3 0.6 9.2 1.2 7.3 1.4 7.3 1.8 7 2.3 5.9 2.3 5.5 2.7 5.7 3.5 6.2 4.9 4.8 4.8 5.3 6.9 3.9 6.5 3.9 8.6 2.8 8.5 1.1 6.1 23.1 0 0-219.4-23.1 0 0 3.7-0.9 3.6-1.7 2.5-3.1 2.4-4.2 1.8-5.5 1.3-7.3 0.9-7.4 0.2-9.1-0.2-9.2-0.7-38.5-4.8-38.5-3.9-7.3-1.1-7.4-1.6-5.5-1.7-5.3-2.4-46 0 0 219.4z"/>
<path fill="#b6ff00" fill-rule="evenodd" d="M300.5 899.8l42.1 0-3.4-2.4-2.6-2.5-2-2.4-2.2-3.7-1.6-3.6-0.9-3.7-0.6-3.6-0.1-3.7 0.2-3.7 0.6-3.6 1.1-3.7 1.6-3.6 2.3-3.7 2.1-2.4 2.6-2.5 3.4-2.4 4.4-2.4 6-2.5 7.5-2.2 6.8-1.4 9.7-1.6 9.2-1 9.1-0.6 9.2-0.2 9.2 0.2 7.3 0.5 9.2 1.2 7.3 1.3 7.3 1.8 7.4 2.3 7.3 3 5.5 2.7 5.9 3.8 5.9 4.9 4.7 5 4.5 5.9 4.3 7.3 4 8.5 3.1 8.6 1.4 6.1 21.2 0 0-219.4-21.1 0 0.3 4.9-0.8 3.6-1.5 2.5-1.3 1.2-1.8 1.2-2.5 1.2-2.5 0.9-5.5 1.2-7.3 0.8-7.3 0.3-9.2-0.2-11-0.9-38.5-4.7-31.2-2.9-11-1.3-7.3-1.2-7.3-1.8-5.5-2-5.6-2.8-42.1 0 0 219.4z"/>
<path fill="#acff00" fill-rule="evenodd" d="M300.5 899.8l38.4 0-2.9-2.4-2.2-2.5-2.1-3-1.6-3.1-1.4-3.6-0.9-3.7-0.4-3.6-0.1-4.9 0.4-3.7 0.7-3.6 1.2-3.7 1.7-3.6 2.2-3.3 2.5-2.8 2.8-2.5 3.6-2.4 4.7-2.4 6.6-2.5 5.5-1.5 7.3-1.6 9.2-1.4 9.1-1.1 11-0.7 9.2-0.3 9.2 0.2 7.3 0.5 9.2 1.1 7.3 1.3 7.3 1.7 7.4 2.2 7.3 2.9 5.5 2.7 5.5 3.3 5.5 4.3 4.7 4.7 4.9 6.1 4.6 7.3 4.4 8.5 3.5 8.6 2.6 8.5 19.3 0 0-219.4-19.2 0 0.8 4.9-0.3 3.6-0.9 2.5-0.9 1.2-1.2 1.2-1.8 1.2-4 1.8-3.7 1-3.6 0.7-7.4 0.8-9.1 0.2-9.2-0.3-11-0.8-38.5-4.6-33-3-11-1.3-9.2-1.6-7.3-2-5.5-2.2-5.6-3.3-38.4 0 0 219.4z"/>
<path fill="#a1ff00" fill-rule="evenodd" d="M300.5 899.8l34.9 0-2.5-2.4-1.9-2.5-2.2-3.6-1.5-3.7-1-3.6-0.6-3.7-0.3-3.7 0.1-4.8 0.5-3.7 0.8-3.6 1.3-3.7 1.8-3.7 1.6-2.4 2.1-2.4 2.6-2.5 3.3-2.4 4.5-2.4 6-2.5 7.3-2.1 7.4-1.6 9.1-1.4 11-1.2 11-0.8 11-0.2 9.2 0.2 7.3 0.5 9.2 1.1 7.3 1.3 7.4 1.8 7.3 2.3 7.3 3 5.5 2.8 5.5 3.5 5.5 4.5 4.4 4.6 4.7 6.1 4.6 7.3 3.8 7.3 4.2 9.8 3.1 8.5 17.4 0 0-219.4-17.4 0 1.4 6.1 0.1 2.4-0.4 2.5-1.4 2.4-1.2 1.2-1.7 1.2-2.5 1.3-4.4 1.3-5.8 1.1-7 0.7-9.2 0.3-9.2-0.3-11-0.8-41.3-4.8-35.7-3.1-11-1.3-9.1-1.8-7.4-2.2-5.6-2.5-3.5-2.3-1.8-1.4-34.9 0 0 219.4z"/>
<path fill="#97ff00" fill-rule="evenodd" d="M300.5 899.8l31.6 0-2.2-2.4-1.9-2.9-1.6-3.2-1.3-3.7-0.9-3.6-0.6-4.9-0.2-4.9 0.3-3.7 0.6-3.6 0.9-3.7 1.4-3.6 1.9-3.7 1.7-2.4 2.1-2.5 2.7-2.4 3.6-2.4 4.7-2.5 6.7-2.4 7.3-1.9 7.4-1.5 9.1-1.3 11-1.2 11-0.7 11-0.3 9.2 0.2 9.2 0.6 9.1 1.1 7.4 1.4 7.3 1.8 7.3 2.4 5.5 2.2 6.6 3.3 5.6 3.6 4.5 3.7 4.7 4.9 4.3 5.5 4.3 6.7 4.6 8.5 4 8.5 4.5 11 15.6 0 0-219.4-15.6 0 1.3 3.7 0.8 3.6 0.3 2.5-0.3 2.4-1.2 2.4-1.1 1.2-1.7 1.3-2.5 1.2-5.7 1.6-5.5 1-7.3 0.6-9.2 0.3-11-0.4-11-0.8-42.1-4.7-36.7-3-12.8-1.6-9.2-1.9-7.3-2.4-5.5-2.9-2.4-1.7-2.7-2.4-31.6 0 0 219.4zM454.5 774.4l-3.7-0.6-5.1-2-4-2.3-3.3-2.6-2.3-2.4-1.8-3-0.4-1.9 0.1-1.2 0.7-1.2 1.5-1 1.8-0.5 3.7 0.2 3.6 1.1 1.9 0.9 3 1.7 2.5 1.9 1.9 1.8 2.1 2.4 1.5 2.5 0.7 2.4 0 1.2-0.7 1.6-1.9 0.9-1.8 0.1z"/>
<path fill="#8cff00" fill-rule="evenodd" d="M300.5 899.8l28.3 0-1.8-2.4-2-3.7-1.4-3.7-1-3.6-0.7-3.7-0.4-4.8 0.1-4.9 0.3-3.7 0.7-3.6 1-3.7 1.4-3.6 1.2-2.5 1.6-2.4 2-2.6 2.4-2.3 3.3-2.4 4.4-2.5 6.4-2.5 7.4-2.1 9.1-1.8 11-1.5 12.9-1.3 11-0.7 11-0.2 9.1 0.2 9.2 0.7 9.2 1.1 7.3 1.4 7.3 1.9 7.3 2.4 5.6 2.3 5.5 2.8 5.5 3.6 5.5 4.6 3.6 3.9 4.6 6 3.9 6 4.4 7.9 4.5 9.2 5.4 12.2 13.9 0 0-219.4-13.9 0 2.8 7.3 0.6 2.5 0.1 2.4-0.5 2.4-0.6 1.2-1.1 1.3-2.1 1.4-2 1-3.5 1.1-6.5 1.3-8.1 0.9-11 0.3-11-0.3-11-0.8-44-4.6-36.7-2.9-11-1.2-11-1.9-5.5-1.5-3.7-1.3-3.6-1.8-3.1-1.9-3-2.5-2.3-2.4-28.3 0 0 219.4zM456.3 779.2l-5.5-1.6-7-3.3-5.7-3.7-4.2-3.7-3-3.6-1.7-3.7-0.4-2.4 0.3-1.2 0.6-1.2 1-1.2 1.8-1 1.8-0.5 1.9-0.2 3.6 0.3 3.7 1 3.7 1.4 3.6 2 3.7 2.6 3.7 3.2 3 3.3 2.5 3.7 1.7 3.6 0.4 2.5-0.2 1.2-0.7 1.2-1.9 1.2-3 0.5-3.7-0.4z"/>
<path fill="#82ff00" fill-rule="evenodd" d="M300.5 899.8l25.2 0-1.5-2.4-1.7-3.7-1.3-3.7-1-4.8-0.5-3.7-0.2-4.9 0.2-4.8 0.4-3.7 0.7-3.6 1.1-3.7 1.4-3.7 1.3-2.4 1.6-2.4 2-2.5 2.6-2.4 3.4-2.4 4.8-2.5 6.5-2.4 6.3-1.7 9.2-1.8 11-1.5 12.8-1.2 12.9-0.9 11-0.2 9.1 0.1 9.2 0.6 9.2 1.1 7.3 1.3 7.3 1.8 7.4 2.3 7.3 3 5.5 3 5.5 3.8 3.7 3.1 4 4.2 4.7 6.1 4.1 6.5 3.9 6.9 11.4 23.2 12.2 0 0-219.4-12.1 0 3.7 8.5 0.8 2.5 0.4 2.4-0.3 2.4-0.6 1.3-0.9 1.2-2 1.5-1.9 0.9-3.6 1.2-6.5 1.3-10 1-11 0.3-11-0.3-11-0.8-45.8-4.5-38.5-2.9-12.9-1.3-5.5-0.9-5.5-1.2-5.5-1.6-3.6-1.5-3.7-2-3.5-2.6-2.4-2.5-1.9-2.4-25.2 0 0 219.4zM463.7 784.1l-3.7-0.6-3.7-0.9-7.3-2.9-7.3-3.9-3.7-2.4-3.7-2.8-4.9-4.9-1.9-2.4-1.4-2.5-0.9-2.4-0.3-2.4 0.3-1.8 0.9-1.9 1.2-1.2 1.5-0.9 1.9-0.7 3.6-0.4 5.5 0.6 4.9 1.4 4.3 1.9 4.9 3 4.3 3.2 4.3 4.1 4.2 4.9 2.5 3.8 2.1 4.7 0.3 2.4-0.1 1.2-0.4 1.3-1.1 1.2-0.8 0.5-1.9 0.6-3.6 0.2z"/>
<path fill="#78ff00" fill-rule="evenodd" d="M300.5 899.8l22.1 0-1.7-3.7-1.3-3.6-0.9-3.7-0.8-4.8-0.4-4.9 0-4.9 0.4-4.9 0.6-3.6 0.8-3.7 1.2-3.6 1.7-3.7 1.4-2.4 1.8-2.5 2.4-2.4 2-1.7 3-2 4.9-2.4 6.8-2.3 7.3-1.8 7.4-1.2 11-1.5 14.6-1.4 12.9-0.8 12.8-0.4 11 0.3 9.2 0.7 9.1 1.2 7.4 1.4 7.3 2 7.3 2.5 5.5 2.5 5.5 3 4.4 3.1 4.8 4.3 3.7 4.1 3.6 4.9 3.7 5.7 3.7 6.4 13.3 25.8 10.5 0 0-219.4-10.5 0 5 9.8 1 2.4 0.6 2.4 0 2.5-0.4 1.2-0.8 1.2-1.3 1.2-2.3 1.2-2.3 0.8-7.8 1.7-10.5 1.1-12.9 0.3-11-0.2-11-0.8-45.8-4.3-44-3-12.8-1.4-5.5-0.9-5.5-1.2-5.4-1.8-3.8-1.8-3.1-1.9-3-2.4-2.3-2.4-2.5-3.7-22.1 0 0 219.4zM465.5 788l-3.7-0.8-5.5-1.7-3.6-1.5-5.5-2.6-5.5-3.1-3.7-2.4-6.8-5.3-2.6-2.4-3.1-3.7-2.2-3.3-1.2-2.8-0.6-2.4 0-2.5 0.9-2.4 0.9-1.2 1.9-1.6 1.8-0.8 3.7-0.8 3.6-0.1 5.5 0.8 5.5 1.8 5.5 2.6 5.5 3.4 5.5 4.4 6 6.1 4.7 6.1 2.9 4.9 1.1 2.4 0.7 2.5 0.1 2.4-0.3 1.2-0.7 1.2-1.6 1.2-1.9 0.6-1.8 0.2-5.5-0.4z"/>
<path fill="#6dff00" fill-rule="evenodd" d="M300.5 899.8l19.2 0-1.5-3.7-1.1-3.6-0.7-3.7-0.7-4.8-0.2-4.9 0-4.9 0.9-8.5 1.8-7.3 1.5-3.7 1.3-2.4 1.6-2.5 2.1-2.4 2.7-2.4 2.4-1.7 5.5-2.8 5.5-1.9 7.4-1.8 9.1-1.6 12.9-1.6 16.5-1.4 14.6-0.9 11-0.2 9.2 0.2 9.2 0.5 9.1 1.1 7.4 1.4 7.3 1.8 7.3 2.4 5.5 2.4 5.5 3 5.1 3.5 4.1 3.6 3.7 4 3.6 4.8 3.7 5.7 3.6 6.3 10.3 19.5 4.7 8.5 8.9 0 0-200.7-0.7 2-1.1 1.3-2.1 1.2-1.6 0.6-3.7 1-5.5 0.9-9.1 0.9-7.4 0.5-9.1 0.1-9.2-0.2-11-0.6-51.7-4.5-47.3-3-9.2-0.9-7.3-1.2-5.5-1.4-5.5-2-4.4-2.4-2.9-2.2-1.6-1.5-2.9-3.6-2-3.7-19.2 0 0 219.4zM472.8 792.6l-3.6-0.5-5.5-1.3-5.5-1.9-5.5-2.3-5.5-2.8-5.5-3.2-5.5-3.6-5.1-4-4-3.6-3.3-3.7-2.3-3.1-1.7-3-1.2-3.6-0.3-2.5 0.4-2.4 1.1-2.4 1.1-1.3 1.7-1.2 2.6-1.1 1.8-0.5 5.5-0.4 5.5 0.7 5.5 1.6 3.7 1.4 3.6 1.8 5.5 3.3 5.5 4.1 6.6 6.2 6.3 7.3 5 7.3 2 3.7 0.9 2.4 0.7 3.7-0.1 1.2-0.5 1.2-0.7 0.8-1.8 1.1-1.9 0.5-1.8 0.2-3.7-0.1zM520.5 697.5l0-17.1-8.8 0 7.1 12.2 1 2.4 0.7 2.5z"/>
<path fill="#63ff00" fill-rule="evenodd" d="M300.5 899.8l16.2 0-1.1-3.7-0.9-3.6-0.8-4.9-0.4-4.9 0-9.7 0.4-4.9 0.8-4.9 0.9-3.6 1.1-3.7 1.6-3.6 1.5-2.5 1.8-2.4 2.3-2.4 4.1-3 5.5-2.7 5.1-1.7 7.7-1.7 9.2-1.5 14.7-1.6 18.3-1.6 12.8-0.7 12.9-0.3 9.1 0.2 9.2 0.5 9.2 1.1 7.3 1.3 7.3 1.9 7.4 2.5 5.5 2.4 5.5 3.1 3.6 2.6 3.7 3.2 3.7 3.9 3.6 4.8 5.5 8.8 12.9 23.8 5.6 9.5 7.2 0 0-194.3-1.8 0.6-5.5 1-11 1.2-14.7 0.7-12.8-0.1-16.5-0.9-49.5-4-44-2.4-12.9-1.1-7.3-1-7.3-1.6-5-1.7-4.2-2-3.7-2.6-2.6-2.7-2.9-4-2.1-4.5-16.2 0 0 219.4zM472.8 796.2l-5.5-1.4-5.5-1.8-5.5-2.3-7.3-3.6-7.3-4.2-5.5-3.7-5-3.7-4.2-3.7-3.7-3.6-3-3.7-2.4-3.7-1.7-3.6-0.8-3.7 0-2.4 0.6-2.4 1.6-2.5 2.1-1.7 1.8-1 2.9-0.9 2.6-0.5 5.5 0 3.7 0.5 3.6 0.8 7.4 2.6 5.5 2.7 7.3 4.8 6 4.9 3.8 3.7 4.6 4.8 4 4.9 3.7 4.9 3.3 4.9 2.2 3.6 1.7 3.7 0.6 2.4-0.1 2.5-0.7 1.2-1.6 1.2-1.8 0.6-1.9 0.3-3.6 0.1-7.4-1zM519.7 690.2l0.8 1.2 0-11-7.2 0 6.4 9.8z"/>
<path fill="#58ff00" fill-rule="evenodd" d="M300.5 899.8l13.4 0-0.9-3.7-0.9-4.8-0.8-9.8 0.3-11 0.5-4.8 0.8-4.9 1.7-6.1 1.6-3.7 1.3-2.4 1.8-2.4 2.3-2.5 2.7-2.1 1.9-1.2 5.5-2.4 5.2-1.6 7.6-1.5 9.2-1.4 16.5-1.6 22-1.7 12.8-0.7 12.8-0.2 9.2 0.1 9.2 0.7 7.3 0.8 7.3 1.3 7.4 1.9 7.3 2.5 5.5 2.6 5.5 3.3 3.7 2.8 3.6 3.4 3.7 4.3 3 4.1 5.8 9.8 12.5 23.1 6 9.8 5.7 0 0-191.4-11 1.1-12.8 0.7-11 0.3-11-0.2-14.7-0.8-44-3.3-56.8-2.9-12.9-1.1-7.3-1.1-5.5-1.4-5.5-2-3.7-2.1-3.6-2.9-3-3.8-2-3.6-1.8-4.9-13.4 0 0 219.4zM480.2 801.2l-5.5-1.2-7.4-2.2-5.5-2.1-7.3-3.3-5.5-2.9-7.3-4.4-7.4-5.1-5.7-4.5-5.3-4.8-3.4-3.8-3.7-4.8-2-3.7-1.3-3.6-0.5-3.7 0.3-2.4 0.4-1.3 1.3-2.4 1.6-1.7 1.8-1.2 1.9-0.9 3.6-1 5.5-0.4 3.7 0.2 3.7 0.6 7.3 2.1 7.3 3.1 7.4 4.3 7.3 5.6 4.3 3.9 4.9 4.9 9.4 11 5.6 7.3 4.3 6.1 2.3 3.6 1.6 3.7 0.3 1.2-0.1 1.2-0.7 1.3-0.7 0.5-1.9 0.9-1.8 0.4-3.7 0.3-3.6-0.2-5.5-0.6zM520.1 687.7l0.4 0.6 0-7.9-5.7 0 5.3 7.3z"/>
<path fill="#4eff00" fill-rule="evenodd" d="M300.5 899.8l10.6 0-1.4-8.5-0.6-11 0.4-11 1.3-9.7 1.9-7.3 2.3-4.9 1.6-2.4 2.2-2.5 3.7-2.8 4-2.1 5.2-1.7 7.3-1.6 9.2-1.3 16.5-1.6 27.5-2 14.6-0.9 12.9-0.2 9.1 0.1 9.2 0.5 9.2 1.1 7.3 1.4 7.3 2 5.5 2 5.5 2.7 5.1 3.2 4.1 3.3 2.8 2.8 2.7 3.2 2.9 4.1 5.1 8.5 13.1 24.4 3.7 6.1 4.1 6.1 4.1 0 0-189.1-27.5 1.2-18.3-0.2-51.1-3.3-68.1-3.1-14.7-1.2-5.5-0.9-5.5-1.4-4.9-1.9-4.2-2.5-1.9-1.5-1.8-2-2.5-3.7-2.1-4.9-1.3-4.9-10.6 0 0 219.4zM487.5 806.1l-7.3-1.4-7.4-2-7.3-2.6-7.3-3.3-7.4-3.9-9.1-5.6-7.4-5.1-6.9-5.5-5.3-4.9-4.5-4.9-3.7-4.8-2.6-4.9-1-2.4-0.5-2.5-0.2-3.6 0.9-3.5 1.7-2.6 2-1.8 1.8-1.1 1.8-0.8 3.7-1 3.7-0.4 3.6 0.1 7.4 1 7.3 2.2 5.5 2.2 3.7 1.9 7.3 4.5 6.9 5.4 6.6 6 6.9 7.4 16.3 18.9 10.2 11.5 2.6 3.7 0.3 1.2-0.3 1.2-1.8 1.2-1.9 0.5-3.6 0.4-3.7 0.1-5.5-0.2-5.5-0.6zM520.1 685.3l0.4 0.6 0-5.5-4.1 0 3.7 4.9z"/>
<path fill="#43ff00" fill-rule="evenodd" d="M300.5 899.8l7.7 0-1-9.8-0.3-12.1 0.5-11 1.2-9.8 2-7.3 2.2-4.8 2.7-3.7 2.8-2.4 1.9-1.3 4.1-1.8 5.5-1.6 5.5-1 9.2-1.1 55-4.1 12.8-0.6 12.9-0.2 9.1 0.1 9.2 0.7 7.3 0.9 7.4 1.5 7.3 2.1 5.5 2.3 3.7 1.9 4.9 3.4 2.9 2.4 3.2 3.2 2.3 2.9 3.2 4.6 3.6 6.3 12.2 23.2 3.5 6.1 3.9 6.1 3.5 4.9 2.6 0 0-88.4-9.2 0.3-9.1-0.3-9.2-0.8-7.3-1.2-7.4-1.7-7.3-2.4-7.3-3-7.4-3.7-9.1-5.4-11-7.5-9.2-7.2-7.2-6.7-5.5-6.1-4.2-6.1-1.8-3.6-0.9-2.5-0.5-2.4-0.3-2.4 0.2-2.5 0.6-2.4 1.3-2.3 1.1-1.4 2.5-2 1.9-1 1.8-0.7 3.7-0.9 3.6-0.4 3.7 0.1 7.3 1 7.4 2 7.3 2.9 5.5 2.8 5.5 3.5 5 3.7 4.2 3.4 9.1 8.8 18.4 20.2 6.6 6.6 8 6.8 7.4 5.1 1.8 0.8 0-90.1-29.3 0.7-14.7-0.1-44-2.6-82.5-3.3-7.3-0.4-7.4-0.8-5.5-1-5.5-1.6-3.6-1.6-3.3-2.1-2.2-2-1.4-1.7-2.3-3.9-1.8-5.1-1.5-6.8-7.7 0 0 219.4zM519.8 682.8l0.7 0.9 0-3.3-2.6 0 1.9 2.4z"/>
<path fill="#39ff00" fill-rule="evenodd" d="M300.5 899.8l5 0-0.8-13.4 0.1-14.6 0.8-12.2 0.6-4.9 1-4.9 1.5-4.8 1.9-3.7 2.7-3.2 3.7-2.6 3.7-1.5 4.4-1.2 4.7-0.8 7.4-0.8 69.6-4.5 12.9-0.6 11-0.2 9.1 0.2 7.4 0.4 7.3 0.9 5.5 1.1 5.5 1.4 5.5 2.1 5.5 3 3.7 2.5 2.9 2.6 2.6 2.6 4.4 5.9 4.3 7.3 10.5 20.7 5.4 9.8 3.8 6.1 3.4 4.9 1.9 2.4 1.1 0 0-84.4-12.8-0.2-9.2-0.5-7.3-0.7-7.4-1.3-5.5-1.3-7.3-2.5-7.3-3.3-7.4-4-11-7.1-11-8-10.4-8.6-7.6-7.3-3.2-3.7-2.9-3.6-3.7-6.1-1.6-3.7-0.8-2.4-0.4-2.4-0.1-2.5 0.3-2.4 0.7-2.5 1.4-2.4 1-1.2 1.7-1.5 1.8-1.2 2.2-1 3.3-1 3.7-0.5 3.6-0.1 7.4 0.7 7.3 1.8 9.2 3.3 5.5 2.7 5.5 3.2 4.8 3.3 4.3 3.4 5.5 4.8 5.4 5.2 17.2 18.3 7.4 7.3 4.9 4.2 3.6 2.8 7.4 4.7 1.8 0.7 0-84.3-31.2 0.5-12.8-0.2-36.7-1.9-33-0.6-31.1-1.5-29.4-0.9-11-0.7-7.3-0.9-5.4-1.1-3.8-1.2-3.6-1.9-2.3-1.8-1.4-1.5-1.5-2.1-2.1-4.9-1.5-6.1-0.9-7.3-5 0 0 219.4zM520.4 681.6l0.1 0.2 0-1.4-1.1 0 1 1.2z"/>
<path fill="#2fff00" fill-rule="evenodd" d="M300.5 899.8l2.2 0-0.3-14.6 0.1-17.1 0.5-12.2 0.9-8.5 1-4.9 1.4-3.6 1.5-2.5 1.2-1.2 2.5-1.9 1.8-0.9 3.7-1.2 3.7-0.7 5.5-0.6 40.3-1.5 51.3-3.3 22-0.8 7.4 0.1 7.3 0.4 7.3 0.9 3.7 0.8 5.5 1.8 3.7 1.7 3.6 2.3 3.7 3 4.5 4.8 4.7 6.8 3.6 6.8 8.7 18.1 5.1 9.7 5.9 9.8 6 8.1 0-81.3-23.8-0.1-7.4-0.4-5.5-0.6-5.5-1.1-5.5-1.8-5.5-2.5-5.5-3.1-11-7.2-14.6-11.1-11-9-9.9-9.4-6.4-7.3-2.6-3.7-2.3-3.6-1.7-3.7-0.9-2.4-0.9-3.7-0.2-2.4 0.1-2.4 0.5-2.5 1-2.4 1.6-2.5 1.5-1.5 1.8-1.5 1.9-1 3.6-1.4 3.7-0.7 3.7-0.2 7.3 0.7 7.3 1.7 9.2 3.1 5.5 2.5 7.3 4 5.5 3.6 5.5 4.1 9.5 8.6 18.8 19.5 8.4 8.1 5 4.1 4.2 3 5.5 3.4 1.8 0.7 0-79.8-38.5 0.3-42.2-1.4-25.6 0.5-7.4 0-34.8-2.2-40.3-1.1-7.4-0.6-5.5-0.7-3.6-0.8-3.7-1.4-2.4-1.6-2.1-2.4-1.7-3.7-1.2-4.9-0.9-7.3-0.5-8.5-2.2 0 0 219.4z"/>
<path fill="#24ff00" fill-rule="evenodd" d="M520.3 897.4l0.2 0.2 0-77.3-12.8 0.5-12.9 1-8.8 1.2-3.4 1.2-0.9 1.2 0 1.3 0.5 1.2 7.1 11.4 3.1 5.7 9.3 20.7 4.7 9.7 3.3 6.1 3.6 6.1 3.3 4.9 3.7 4.9zM311.2 826.7l22.3 0.8 12.8 0.3 14.7-0.2 16.5-0.7 75.2-5.6 5.5-0.7 1.8-0.4 2.2-0.8 0.8-1.3-0.2-1.2-0.7-1.2-2.1-2.4-2.5-2.5-30.5-25.9-11-10.1-4.1-4.2-4.3-4.9-5.3-7.3-2.7-4.9-1.4-3.6-1.3-4.9-0.2-3.7 0.4-3.6 1.1-3.7 1.3-2.7 3.9-5.8 0.5-1.2-0.2-1.2-1.5-1.3-3.1-1.2-8.8-2-9.1-1.3-9.2-0.8-11-0.5-12.8-0.2-18.4 0-12.8 0.4-5.5 0.5-3.7 0.7-1.9 0.8-1.5 1.2-1.4 2.4-0.7 2.5-0.8 8.5-0.5 19.5 0 32.9 0.3 20.7 0.6 11 0.9 4.9 1.4 2.5 1.8 1.3 1.8 0.6 3.4 0.5zM517.9 792.5l2.6 1.2 0-76-9.2 0-27.5 0.5-29.3-0.6-11 0.1-7.4 0.5-7.3 1.2-3.5 1.2-1.4 1.2 0.5 1.3 1.9 1.2 15.4 6.5 9.1 4.5 7.4 4.4 5.5 3.8 6.4 5.2 6.4 5.8 19.1 19.8 7.5 7.3 7.5 6.1 7.3 4.8z"/>
<path fill="#1aff00" fill-rule="evenodd" d="M519.7 894.9l0.8 1.1 0-73.7-12.8 1.2-5.5 0.9-4.2 1-3.2 1.3-1.8 1.2-1.1 1.2-0.6 1.2-0.2 2.5 1.1 4.8 8.2 22 5.3 12.2 3.1 6.1 3.4 6.1 3.9 6 3.6 4.9zM333.7 825.4l7.1 0.6 9.2 0.4 20.2-0.1 20.1-1.2 29.4-2.7 15.7-1.8 6.9-1.2 3-0.9 3.7-1.5 1.5-1.3 0.6-1.2 0-1.2-0.3-1.3-1.2-2.4-3.9-4.9-6.2-6.1-18-16.4-8.3-7.9-6.8-7.4-5.7-7.3-3.8-6.1-2.7-6.1-1-3.6-0.7-3.7-0.5-8.5-0.4-2.4-1.1-2.5-2-1.9-3.2-1.7-4.1-1.4-5.5-1.1-9.2-1.1-9.2-0.5-11-0.1-9.1 0.3-9.2 0.6-5.5 0.8-3.7 0.7-3.6 1.3-1.9 0.9-1.8 1.2-2.1 2-1.6 2.5-1.5 3.6-0.9 3.7-0.9 4.8-1 13.5-0.4 19.5 0.5 18.2 0.7 9.8 1.3 7.3 1.6 4.9 1.4 2.4 1.1 1.3 2.9 2.4 4.4 1.9 7.5 1.7 9.2 1.2zM519.6 791.3l0.9 0.3 0-72.3-11 0-23.8 0.7-23.9 0-7.3 0.2-7.3 0.8-3.3 0.8-2 1.3-0.4 1.2 0.5 1.2 1 1.2 3.2 2.5 13.8 9 9.2 7.2 9.1 8.5 17.2 17.9 7.5 7.3 8.3 6.9 7.4 5 0.9 0.3z"/>
<path fill="#0fff00" fill-rule="evenodd" d="M520 893.7l0.5 0.7 0-70.2-5.5 0.6-5.5 0.9-3.7 1-3.6 1.3-2.2 1.1-1.6 1.2-1.1 1.2-1.1 2.5-0.3 2.4 0.5 4.9 1.8 7.3 2.6 8.5 3.3 8.6 3.9 8.5 3.9 7.3 3.7 6.1 4.4 6.1zM340.1 824.2l13.6 1 14.6 0.1 16.5-0.7 18.4-1.6 19.7-2.4 9.6-1.8 3.7-1 3.6-1.4 1.3-0.7 1.5-1.2 0.9-1.2 0.4-1.3-0.2-2.4-1-2.4-2.5-3.7-3.1-3.6-4.7-4.9-21.5-20.7-8.9-9.8-5.6-7.3-3.7-6.1-2.9-6.1-3.5-9.8-1.9-3.6-1.4-1.8-2.2-1.9-2.1-1.2-2.9-1.2-4.3-1.2-5-0.9-5.5-0.6-7.3-0.4-7.4-0.1-7.3 0.3-5.5 0.5-5.5 0.8-3.7 0.9-3.6 1.2-3.7 1.8-1.8 1.3-1.9 1.8-1.5 1.9-1.4 2.4-1.1 2.5-1.7 6.1-1.2 7.3-0.8 9.7-0.3 11 0.2 11 0.6 9.7 1.2 8.6 1.6 6.1 1.6 3.6 2.5 3.7 2.6 2.4 3.2 2 4 1.7 5.2 1.5 5.5 1.2 6.6 0.9zM518.5 788.9l2 0.8 0-69-11 0.1-44 1.8-7.3 0.9-2.8 0.8-1.9 1.2-0.4 1.2 0.2 1.2 0.7 1.3 2.3 2.4 11 9.4 7.4 6.7 7.3 7.4 14.6 15.5 7.4 7.2 7.3 6.2 7.2 4.9z"/>
<path fill="#05ff00" fill-rule="evenodd" d="M520.3 892.5l0.2 0.3 0-66.9-5.5 0.9-4.2 1.1-3.5 1.2-3.3 1.8-2.2 1.9-1.5 2.1-0.9 2.7-0.2 2.5 0.3 4.9 1.2 6 1.9 7.4 2.6 7.3 3.3 7.3 3.8 7.3 3.7 6.1 4.3 6.1zM361.8 824.2l15.7-0.2 16.5-1.1 19.2-2.3 7.3-1.2 5.5-1.3 4.2-1.2 3-1.2 2.2-1.2 1.4-1.2 0.9-1.3 0.5-1.2 0.1-1.2 0-1.2-0.8-2.5-1.3-2.4-1.6-2.4-5.2-6.1-21.9-22-9-9.7-3.9-4.9-3.5-4.9-9.9-16.4-2.6-3.1-2.9-2.4-3.7-2-5.5-1.8-7.3-1.3-7.4-0.5-9.1 0.1-6.9 0.6-6 1.1-5.5 1.7-3.6 1.8-2.2 1.5-2.5 2.4-1.8 2.5-1.4 2.4-1.5 3.7-1.1 3.6-1 4.9-0.9 6.1-0.5 7.3-0.2 8.6 0.2 7.3 0.6 7.3 0.8 6.1 1 4.9 1.6 4.8 2.6 4.9 3.1 3.7 3.2 2.5 5.5 2.8 7.3 2.4 7.3 1.5 9.2 1.1 11.8 0.6zM519.9 787.7l0.6 0.2 0-65.7-14.7 0.4-31.1 2.2-7.4 1.2-2.3 0.7-1.8 1.2-0.7 1.3 0 1.2 1.2 2.4 1.9 2.4 14.6 15.3 16.3 17.7 7.3 7.3 5.5 4.8 5.7 4.4 3.7 2.5 1.2 0.5z"/>
<path fill="#00ff05" fill-rule="evenodd" d="M519.6 890l0.9 1.3 0-63.6-5.5 1.2-3.7 1.2-2.9 1.4-2.6 1.9-1.6 1.8-1.4 2.4-0.7 2.5-0.3 3.6 0.2 4.9 0.8 4.9 1.6 6.1 2 6.1 2.6 6.1 3 6.1 3.5 6.1 4.1 6zM360.9 823l14.8 0 14.6-0.9 16.5-1.9 5.5-0.9 7.4-1.5 3.1-0.9 4.2-1.5 3.7-2.1 1.3-1.3 0.9-1.2 0.6-2.4 0-1.2-0.6-2.5-1.1-2.4-1.5-2.4-4.9-6.1-5.7-6.1-13.4-13.4-8.1-8.6-8.4-9.7-10.5-13.8-3.6-3.9-3.7-2.9-3.7-2-5.5-1.9-5.5-1-5.5-0.6-7.3 0-5.5 0.4-5.5 0.9-5.5 1.6-2.7 1.2-2.8 1.7-2.5 2-2.2 2.4-1.7 2.5-1.8 3.6-1.3 3.7-1 3.6-0.9 4.9-0.7 6.1-0.3 6.1 0 7.3 0.4 6.1 0.7 6.1 0.9 4.9 1.4 4.9 2.1 4.8 1.5 2.5 1.8 2.4 4 3.7 5.1 3 3.7 1.7 3.6 1.2 7.4 1.8 9.1 1.4 9.1 0.6zM518.4 785.2l2.1 0.9 0-62.5-14.7 0.7-22.6 2.4-6.8 1.2-3.4 1.3-1.7 1.2-0.8 1.2-0.2 1.2 0.7 2.5 3.2 4.8 6.1 7.3 13.9 15.9 8.1 8.5 8 7.3 8.1 6.1z"/>
<path fill="#00ff10" fill-rule="evenodd" d="M519.9 888.8l0.6 0.9 0-60.4-3.6 1-3.7 1.5-3.7 2.1-1.8 1.7-1.6 2-1.2 2.5-0.8 3.6-0.2 3.7 0.3 4.9 0.9 4.8 1.3 4.9 1.6 4.9 2 4.9 3 6.1 3.6 6.1 3.3 4.8zM361.6 821.8l12.2 0.2 14.7-0.8 15.6-1.8 6.7-1.3 5.1-1.2 3.9-1.2 3-1.2 2.3-1.2 1.9-1.6 1.6-2.1 0.5-1.2 0.2-2.5-0.6-2.4-1-2.4-2.3-3.7-2.8-3.6-4.3-4.9-23.9-24.4-16.9-18.5-3.7-3.4-3.2-2.5-4.1-2.3-3.7-1.5-3.6-1.1-5.5-1-5.5-0.4-5.5 0.2-5.5 0.7-5.5 1.4-3.7 1.5-2.2 1.3-3.2 2.4-1.9 2.1-1.9 2.5-1.8 3.4-1.2 3-1.1 3.7-1 4.8-0.6 4.9-0.4 6.1 0 6.1 0.4 6.1 0.7 4.9 1 4.9 1.1 3.6 2.1 4.9 3.3 4.9 3.6 3.6 5.4 3.7 5.2 2.4 8 2.5 8.3 1.5 9.8 0.9zM519.6 784l0.9 0.4 0-59.3-12.8 0.8-15.1 2-8.8 1.9-1.8 0.6-2.5 1.2-1.5 1.2-0.7 1.2-0.3 1.2 0.1 1.3 0.8 2.4 1.3 2.4 4.2 6.1 9.9 12.2 10.1 11 7.9 7.4 7.4 5.6 0.9 0.4z"/>
<path fill="#00ff1a" fill-rule="evenodd" d="M520.1 887.6l0.4 0.6 0-57.2-3.7 1.3-3.3 1.7-2.2 1.5-2.1 2.1-1.5 2.5-1 2.4-0.8 3.7-0.1 3.6 0.2 3.7 0.7 4.9 1.3 4.8 1.6 4.9 2.1 4.9 2.4 4.9 2.8 4.8 3.2 4.9zM362.7 820.6l13 0.2 12.8-0.7 7.3-0.8 7.4-1.1 6-1.3 4.4-1.2 3.4-1.2 2.6-1.2 2-1.3 2.5-2.4 0.7-1.2 0.5-2.5 0-1.2-0.5-2.4-1.7-3.7-2.4-3.6-3.9-4.9-4.5-4.9-33-32.8-5.5-4.8-3.6-2.8-3.7-2.2-3.7-1.7-3.6-1.2-5.5-1.2-5.5-0.5-5.5 0.2-5.5 0.8-3.7 1.1-2.9 1.2-2.6 1.5-2.8 2.2-2.3 2.4-2.2 3.3-1.5 2.8-2 6.1-0.8 3.7-0.6 4.9-0.3 4.8 0 4.9 0.3 4.9 0.7 4.9 1.1 4.8 1.2 3.7 2.2 4.9 3.4 4.8 3.7 3.7 5.4 3.7 5.5 2.6 7.2 2.2 7.5 1.5 9 1zM518.3 781.6l2.2 1.1 0-56.2-11 1-10.4 1.7-5.4 1.2-4.1 1.2-3.9 1.9-1.9 1.6-0.7 1.4-0.2 2.4 1.1 3.7 3.5 6.1 7.3 9.7 8.5 9.8 7.4 7.3 7.6 6.1z"/>
<path fill="#00ff25" fill-rule="evenodd" d="M520.3 886.4l0.2 0.2 0-53.8-3 1.2-2.5 1.4-2.7 2.2-2 2.5-1.2 2.4-0.9 2.5-0.5 2.4-0.2 3.6 0.1 3.7 0.7 4.9 0.9 3.6 1.5 4.9 2 4.9 2.4 4.9 5.2 8.5zM364.4 819.4l11.3 0.3 12.8-0.8 6.7-0.8 6.1-1 6.1-1.4 3.9-1.2 5.3-2.5 1.8-1.2 2.2-2.4 0.6-1.2 0.4-2.5-0.2-2.4-0.8-2.4-2-3.7-3.5-4.9-4.2-4.9-5.9-6.1-11-10.6-12.8-11.8-5.5-4.6-5.5-4-3.7-2.1-3.7-1.8-3.6-1.3-5.5-1.3-5.5-0.5-3.7 0-5.5 0.8-3.7 1.1-3.6 1.7-1.9 1.2-3.6 3.2-1.9 2.3-1.8 3.1-1.2 2.7-1.2 3.7-0.8 3.6-0.6 4.9-0.2 8.5 0.3 3.9 0.8 4.7 0.9 3.6 1.2 3.7 2.4 4.9 3.4 4.8 3.7 3.7 5.3 3.6 4.9 2.5 7.3 2.4 6.8 1.4 8.9 1.1zM519.2 780.3l1.3 0.6 0-52.9-9.2 1-7.2 1.4-5.6 1.5-5.6 2.1-2 1.2-1.3 1.3-0.9 1.2-0.7 2.4 0 1.2 0.5 2.5 2.2 4.9 2.2 3.6 3.5 4.9 8 9.7 7.3 7.4 3.3 2.9 4.2 3.1z"/>
<path fill="#00ff2f" fill-rule="evenodd" d="M519.8 884l0.7 1 0-50.5-1.8 0.9-3.4 2.2-1.3 1.3-1.9 2.4-1.3 2.4-0.9 2.5-0.5 2.4-0.4 3.7 0.1 3.6 0.5 3.7 1.8 7.3 1.4 3.6 2.1 4.9 4.9 8.6zM366.7 818.1l5.3 0.3 7.3-0.1 11-0.9 10.4-1.7 4.7-1.2 3.5-1.2 4.8-2.5 1.5-1.2 2-2.4 0.5-1.3 0.4-2.4-0.4-2.4-0.8-2.5-1.9-3.6-3.6-4.9-4.2-4.9-5.9-5.9-9.1-8.5-9.2-8-7.3-5.7-5.5-3.7-5.5-2.9-3.7-1.5-3.7-1.2-5.5-1-5.5-0.2-3.6 0.4-3.7 0.9-3.7 1.4-1.8 1-2.8 2-3.3 3.7-1.6 2.4-1.5 3.1-1.8 6.4-0.6 3.9-0.2 3.7 0.4 7.3 0.5 3.6 0.9 3.7 2.3 6.1 2.9 4.9 3 3.6 4 3.7 5.1 3.3 5.5 2.4 5.5 1.7 7.4 1.5 7.5 0.8zM520.4 779.1l0.1-49.6-5.5 0.7-5.5 1.1-5.5 1.5-3.7 1.4-3.6 1.9-2 1.6-1.7 2.4-0.5 2.5 0.6 3.6 1.4 3.7 2.8 4.9 4.3 6 5.1 6.1 4.6 4.9 7.4 6.5 1.7 0.8z"/>
<path fill="#00ff39" fill-rule="evenodd" d="M520.1 882.7l0.4 0.7 0-47.1-2.2 1.3-2.8 2.5-2.6 3.6-1 2.5-0.8 2.4-0.4 2.4-0.2 3.7 0.5 6.1 0.8 3.7 1.1 3.6 3.1 7.3 4.1 7.3zM370.2 816.9l10.8 0 9.3-0.8 9.2-1.8 3.7-1 3.6-1.5 3.9-2.2 1.6-1.5 1.5-2.2 0.7-2.4-0.1-2.4-0.6-2.5-1.1-2.4-2.2-3.7-3.9-4.8-5.3-5.7-5.5-5.2-7.3-6.4-7.3-5.8-5.5-4-5.5-3.4-5.5-2.7-3.7-1.4-5.5-1.5-3.7-0.5-3.6-0.1-3.7 0.4-3.7 0.8-3.6 1.6-3.7 2.5-1.8 1.8-1.9 2.4-2.1 4-1.2 3.7-0.6 2.4-0.6 6.1 0.1 3.6 0.4 3.7 1.4 6.1 2.4 6.1 3.1 4.9 3.2 3.6 4.4 3.7 4.1 2.4 5.6 2.5 5.5 1.6 7.3 1.3 7.4 0.7zM519.1 776.7l1.4 0.7 0-46.3-3.7 0.6-5.5 1.2-5.5 1.9-3.3 1.7-2.2 1.4-2.1 2.2-1.2 2.5-0.3 2.4 0.3 2.4 1.3 3.7 1.8 3.7 3.1 4.8 3.7 4.9 4.3 4.9 3.8 3.8 4.1 3.5z"/>
<path fill="#00ff44" fill-rule="evenodd" d="M520.3 881.5l0.2 0.3 0-43.6-1.8 1.3-1.9 1.8-2.5 3.7-1 2.4-0.7 2.4-0.5 2.5-0.2 3.6 0.6 6.1 1.5 6.1 2.4 6.1 3.9 7.3zM362.4 814.5l9.6 1 5.5 0.1 5.5-0.3 9.2-1.1 4.4-0.9 4.1-1.3 3-1.2 2.3-1.2 1.7-1.2 2.1-2.5 0.7-1.3 0.5-2.3-0.5-3.7-1.5-3.6-2.4-3.7-2.9-3.6-4.2-4.6-5.5-5.1-5.5-4.7-7.3-5.5-5.5-3.7-5.5-3.2-3.7-1.7-5.5-2.1-3.7-0.9-3.6-0.6-3.7-0.1-3.7 0.4-3.6 0.9-3.7 1.8-1.8 1.3-1.9 1.7-2.2 2.9-1.4 2.4-0.9 2.5-1.2 4.9-0.2 6 0.5 4.9 1.6 6.1 2.1 4.9 2.3 3.7 3.1 3.6 3.7 3.2 4.6 2.9 4.5 2 5 1.7 5.6 1.2zM520.4 775.5l0.1-42.7-5.5 1.2-3.7 1.2-2.8 1.3-2.7 1.5-1.8 1.4-1.8 1.9-1.2 2.5-0.4 2.4 0.2 2.5 1 3.6 1.7 3.7 3 4.8 3.7 4.9 3.3 3.7 5.2 5.1 1.7 1z"/>
<path fill="#00ff4e" fill-rule="evenodd" d="M519.9 879.1l0.6 1 0-39.9-1.8 1.6-1.6 1.9-2 3.7-1.4 4.9-0.4 4.8 0.4 4.9 1.4 6.1 1.8 4.9 3 6.1zM366.2 813.3l9.5 0.7 9.1-0.4 3.7-0.5 5.3-1.1 5.7-1.9 3.4-1.7 1.6-1.2 2-2.5 0.5-1.2 0.4-2.4-0.2-2.5-0.9-2.4-1.9-3.7-2.7-3.6-4-4.4-3.7-3.5-9.2-7.5-5.5-3.7-5.5-3.3-5.5-2.8-3.6-1.4-3.7-1.1-3.7-0.7-3.6-0.4-3.7 0.2-2.8 0.5-2.7 1-2.8 1.5-2.8 2.4-2.6 3.7-1.5 3.6-0.9 4.9 0 4.9 0.7 4.9 1.5 4.8 1.8 3.7 2.4 3.7 3.3 3.6 2.9 2.4 3.9 2.5 5.1 2.2 4.6 1.4 6.1 1.3zM519.7 773l0.8 0.5 0-39-3.7 1.1-3.6 1.4-3.5 1.9-1.6 1.2-1.3 1.2-1.7 2.5-0.5 1.2-0.4 2.4 0.1 2.5 0.9 3.6 1.1 2.5 2 3.6 2.4 3.7 2.9 3.6 5.1 5.5 1 0.6z"/>
<path fill="#00ff59" fill-rule="evenodd" d="M520.3 877.9l0.2 0.3 0-35.9-1.8 2.1-1.2 1.8-1.6 3.6-0.9 3.7-0.4 4.9 0.5 4.8 1.1 4.9 1.8 4.9 2.3 4.9zM372.9 812l8.3 0.1 7.3-1 5.9-1.5 2.9-1.2 2.1-1.2 2.7-2.5 1.1-2 0.4-1.6 0-1.2-0.3-2.5-1-2.4-1-1.9-2-3-3.2-3.7-3.9-3.8-3.7-3-7.3-5.3-5.5-3.3-3.7-1.8-7.3-2.8-3.7-0.9-3.7-0.5-3.6 0-1.9 0.3-3.6 1.1-1.9 0.9-2.7 2.1-2 2.4-1.7 3.7-0.9 3.6-0.2 3.7 0.5 4.9 1.4 4.8 1.7 3.7 2.5 3.7 2.2 2.4 2.9 2.4 3.9 2.5 5.3 2.2 3.6 1.1 5.5 1.1 4.6 0.4zM519.3 770.6l1.2 0.8 0-35-5.5 2.3-3.7 2.6-1.2 1.3-1.6 2.4-0.5 1.2-0.4 2.5 0.1 2.4 0.5 2.4 1.9 4.9 3.9 6.1 4 4.9 1.3 1.2z"/>
<path fill="#00ff63" fill-rule="evenodd" d="M520.1 875.4l0.4 0.9 0-31.6-1.9 2.7-1.5 3.6-0.9 3.7-0.3 3.7 0.2 3.6 0.9 4.9 1.1 3.6 2 4.9zM370.3 809.6l7.2 0.5 5.5-0.3 3.7-0.6 3.3-0.8 4-1.6 1.8-1.1 1.9-1.7 1.1-1.7 0.5-1.2 0.2-1.2-0.2-2.5-1.4-3.6-1.5-2.5-2.4-2.9-5.5-5.2-7.3-5.3-7.4-4-3.6-1.5-3.7-1.2-5.5-1-3.7 0-1.8 0.2-3.7 1.2-2.3 1.4-2.4 2.5-1.4 2.4-1.1 3.7-0.2 2.4 0.1 3.7 0.8 3.6 1.4 3.7 1.4 2.4 1.9 2.5 2.5 2.4 3.3 2.4 3.4 1.8 3.6 1.4 3.7 1 3.8 0.7zM519.3 768.2l1.2 0.9 0-30.5-3 1.5-1.8 1.2-2.5 2.5-1.5 2.4-0.5 1.2-0.4 2.5 0.3 3.6 1.6 4.9 2.8 4.9 3.2 4.3 0.6 0.6z"/>
<path fill="#00ff6e" fill-rule="evenodd" d="M520.1 873l0.4 1.1 0-26.8-1.4 2.5-1.2 3.7-0.5 2.4-0.3 3.7 0.2 2.4 0.5 3.7 0.9 3.6 1.4 3.7zM372.5 807.2l5 0.3 4.6-0.3 4.6-1 3.6-1.5 1.8-1.2 1.2-1.2 0.8-1.2 0.4-1.2 0.1-2.5-0.6-2.4-0.6-1.2-1.2-2-1.9-2.3-4.6-4.3-6.4-4.2-5.5-2.7-5.5-1.8-5.5-0.6-3.6 0.4-1.9 0.6-1.8 1-1.8 1.5-1.5 2.2-1.2 3.6-0.2 2.5 0.4 3.6 0.8 2.5 1.2 2.4 2.8 3.7 2.9 2.4 1.9 1.2 2.5 1.2 3.2 1.2 6 1.3zM519.8 765.7l0.7 0.7 0-25.4-2.1 1.6-2.4 2.4-1.4 2.4-0.8 3.7 0.4 3.7 1.1 3.6 2.6 4.9 0.8 1.2 1.1 1.2z"/>
<path fill="#00ff78" fill-rule="evenodd" d="M520.2 870.5l0.3 0.9 0-21.1-1.5 4.4-0.6 4.9 0.3 4.9 1.5 6zM373.2 803.5l4.3 0.3 3.7-0.4 3.5-1.1 1.9-1.2 1-1.2 0.6-1.3 0.2-1.2-0.1-1.2-0.9-2.4-1.8-2.5-2.6-2.5-3.7-2.5-3.6-1.8-3.7-1.2-3.7-0.5-3.6 0.4-1.9 0.7-1.8 1.3-1 1.2-1 2.5-0.2 1.2 0.2 2.4 0.8 2.5 1.6 2.4 1.4 1.5 1.9 1.4 3.8 2 4.7 1.2zM519.7 762.1l0.8 1 0-19-1.8 2.1-0.7 1.2-0.9 2.5-0.3 2.4 0.1 2.5 0.6 2.4 1.2 3.2 1 1.7z"/>
<path fill="#00ff82" fill-rule="evenodd" d="M520.3 866.9l0.2 1.1 0-13.7-0.6 2.8-0.3 3.7 0.1 2.4 0.6 3.7zM520.2 757.2l0.3 0.8 0-9-0.8 3.3 0 2.5 0.5 2.4z"/>
</g>
<path d="M410.5 877.9l-5.5-1.2-3.8-1.3-2.2-1.2-1.5-1.2-0.9-1.2-0.3-1.3 0.2-1.2 0.9-1.2 2.1-1.4 3.3-1 4-0.5 3.7 0 4.1 0.5 5.1 1.2 3.2 1.2 2.4 1.2 1.7 1.2 1.2 1.3 0.8 1.2 0.2 1.2-0.4 1.2-1.5 1.2-2.1 0.9-1.5 0.4-2.2 0.3-3.7 0.1-3.6-0.1-3.7-0.3M410.5 881.7l-3.7-0.5-4.5-0.9-4.6-1.2-1.9-0.7-3.6-1.7-1.9-1.2-1.5-1.3-1-1.2-0.6-1.2-0.3-1.3 0.1-1.2 0.4-1.2 0.7-1.2 1.2-1.2 1.8-1.2 2.5-1.3 2.2-0.7 1.9-0.5 3.6-0.5 3.7-0.3 3.7 0 3.6 0.3 3.7 0.5 5.5 1.2 3.9 1.3 3.1 1.2 4.6 2.4 3.3 2.4 1.6 1.9 1 1.8 0.3 1.2-0.1 1.2-0.6 1.3-0.6 0.7-0.5 0.5-2.2 1.2-2.8 0.9-3.7 0.7-5.5 0.4-5.5 0-7.3-0.6M419.7 885.2l-9.2-0.7-9.2-1.3-7.3-1.8-3.2-1.1-2.8-1.2-2.2-1.2-1.8-1.3-1.3-1.2-1-1.2-0.8-1.2-0.4-1.2-0.2-1.3 0-1.2 0.3-1.2 0.5-1.2 0.9-1.2 1-1.2 1.6-1.3 2-1.2 2.8-1.2 2.8-0.9 3.6-0.8 3.7-0.5 3.7-0.3 3.6 0 3.7 0.2 3.7 0.4 4.3 0.7 4.8 1.1 3.7 1.1 3.7 1.3 3.1 1.4 2.4 1.2 3.9 2.4 2.9 2.4 2.1 2.5 1.2 2.4 0.2 1.2 0 1.3-0.4 1.2-0.7 1.2-1.3 1.2-2.1 1.2-3.5 1.3-2.3 0.4-3.7 0.5-3.7 0.3-9.1 0M419.7 887.6l-11-0.9-9.2-1.3-7.3-1.6-3.7-1.1-3.7-1.4-3.6-1.9-2.2-1.5-1.5-1.4-1.7-2.3-0.6-1.2-0.5-2.5 0.3-2.4 0.4-1.2 1.6-2.4 1.2-1.3 3-2.2 2.8-1.4 3.1-1.2 5.1-1.4 3.6-0.6 5.5-0.5 5.5 0 3.7 0.2 5.5 0.6 3.7 0.7 4.5 1 4.6 1.3 3.7 1.3 5.3 2.2 4.4 2.5 3.5 2.4 2.8 2.4 2 2.5 1.4 2.4 0.6 2.5 0 1.2-0.3 1.2-0.6 1.2-0.9 1.2-1.5 1.3-2 1.1-3.7 1.3-1.8 0.4-3.7 0.5-5.5 0.5-5.5 0-7.3-0.2M425.2 890.1l-7.4-0.4-7.3-0.6-11.7-1.5-6.5-1.2-3.8-0.9-3.7-1.1-3.6-1.4-3.7-1.9-3-2-1.3-1.2-1.9-2.5-1.1-2.4-0.3-1.2 0-2.5 0.6-2.4 1.4-2.4 2.2-2.5 3.3-2.4 2.3-1.2 3.3-1.4 5.5-1.6 3.7-0.8 5.5-0.6 3.6-0.2 5.5 0 5.5 0.4 5.5 0.7 5.5 1 4.9 1.2 4.3 1.4 5.5 2.1 5.4 2.6 4 2.5 3.4 2.6 3.5 3.5 1.7 2.4 0.7 1.2 0.8 2.5 0.2 2.4-0.2 1.2-0.5 1.2-0.7 1.3-1.2 1.2-1.6 1.2-2.7 1.3-3.6 1.1-3.7 0.7-5.5 0.5-5.5 0.2-7.3-0.1M412.3 891.3l-12.8-1.4-5.5-0.9-5.5-1.1-5.5-1.4-3.7-1.3-3-1.2-2.5-1.3-1.8-1.2-2.9-2.4-1.9-2.5-1.3-2.4-0.5-2.4 0-2.5 0.6-2.4 1.2-2.4 2-2.5 2.8-2.4 3.7-2.3 3.6-1.6 5.5-1.7 5.5-1.2 5.5-0.7 5.5-0.3 5.5 0.1 7.4 0.5 7.1 1.1 5.6 1.2 5.6 1.6 5.9 2.1 5.5 2.4 4.4 2.4 4.4 3 3.6 3.1 3.2 3.7 0.8 1.2 1.2 2.4 0.5 1.3 0.4 2.4-0.2 2.4-0.3 1.3-0.7 1.2-0.9 1.2-1.3 1.2-2.7 1.7-3.6 1.4-3.7 0.8-5.5 0.7-5.5 0.3-7.3-0.1-9.2-0.4-9.2-0.7M417.8 893.7l-16.5-1.6-7.3-1-5.5-0.9-5.5-1.2-3.7-1-3.6-1.3-3.7-1.7-3.9-2.3-2.8-2.4-2-2.4-1.3-2.5-0.7-2.4-0.2-1.2 0.1-2.5 0.6-2.4 1.1-2.4 1.8-2.5 1.8-1.9 1.8-1.5 3.7-2.2 3.7-1.8 5.5-1.8 5.5-1.3 5.5-0.9 7.3-0.5 5.5-0.1 7.3 0.4 5.5 0.7 7.4 1.3 5.5 1.3 7.1 2.2 5.7 2.3 5.2 2.6 5.9 3.7 4.4 3.6 3.4 3.7 2.5 3.6 0.6 1.3 0.8 2.4 0.4 2.4 0 1.2-0.4 2.5-0.5 1.2-0.7 1.2-1 1.2-2.3 1.8-1.8 1-1.8 0.8-3.7 1-5.5 0.9-5.5 0.4-7.3 0-9.2-0.3-9.2-0.7M425.2 896.3l-22-2-7.4-0.8-6.7-1-6.1-1.2-5.1-1.3-4.1-1.2-3.6-1.5-4-2.1-3.3-2.5-2.4-2.4-1.6-2.4-1.1-2.5-0.5-1.8-0.2-1.8 0.1-2.5 0.3-1.2 0.8-2.4 0.9-1.8 1.2-1.9 2.3-2.4 3-2.5 4.2-2.4 3.9-1.7 6-2 5.4-1.2 7-1 5.5-0.4 7.3-0.1 7.3 0.4 7.4 0.9 7.3 1.3 5.5 1.4 7.3 2.3 6.3 2.5 6.6 3.4 5.5 3.6 1.9 1.6 2.7 2.4 3.2 3.7 1.7 2.4 1.4 2.4 0.9 2.5 0.6 2.4 0.2 2.5-0.1 1.2-0.6 2.4-0.6 1.2-0.8 1.2-1.4 1.5-1.2 1-2 1.2-2.3 1-1.8 0.6-3.7 0.8-5.5 0.7-7.3 0.3-7.3-0.2-11-0.6M428.8 898.6l-25.6-2.3-9.2-1-7.3-1.1-5.5-1-5.5-1.3-5.5-1.7-3.3-1.4-4.5-2.4-3.2-2.4-2.3-2.5-1.4-2-0.9-1.6-0.9-2.9-0.5-3.2 0.4-3.7 0.8-2.4 0.5-1.2 0.7-1.3 1.7-2.4 2.4-2.4 3.1-2.5 2-1.2 3.5-1.8 4.7-1.9 6.3-1.8 5.5-1.1 7.4-1 7.3-0.4 7.3 0 7.4 0.5 7.3 0.9 7.3 1.4 7.4 1.9 6.2 2.1 6.6 2.7 6.3 3.4 5.5 3.6 2.9 2.4 1.8 1.7 1.9 2 2 2.5 1.7 2.4 1.4 2.4 1 2.5 0.7 2.4 0.4 2.5 0 2.4-0.5 2.4-0.4 1.2-1.5 2.5-1.2 1.3-1.8 1.4-1.9 1.1-1.8 0.8-1.8 0.6-3.7 0.9-5.5 0.7-7.3 0.2-7.4-0.2-11-0.7M419.1 899.8l-21.4-2.1-11-1.3-9.2-1.6-4.6-1.1-4.1-1.2-3.2-1.2-2.8-1.3-3.6-2-2.2-1.6-2.6-2.4-2-2.5-1.3-2.4-0.9-2.5-0.7-3.6 0.2-3.7 0.9-3.6 1.2-2.5 1.6-2.4 2.1-2.4 2.8-2.5 3.8-2.4 4.4-2.2 3.7-1.4 4-1.3 5.1-1.2 5.5-1 5.5-0.7 5.5-0.5 7.4-0.2 9.1 0.4 9.2 1 9.2 1.8 7.3 1.9 7.3 2.5 3.7 1.5 3.9 1.8 6.5 3.7 3.4 2.4 2.7 2.1 3 2.8 2.2 2.4 1.9 2.5 1.7 2.4 1.9 3.7 1 2.4 0.7 2.4 0.4 2.5 0.1 2.4-0.3 2.4-0.8 2.5-0.8 1.4-1.8 2.2-1.5 1.3-2.2 1.3-2.6 1.1M469.1 680.4l-3.6 1.1-3.7 0.8-5.5 0.5-5.5 0.1-5.5-0.1-7.3-0.5-20.1-1.9M397.6 899.8l-14.6-1.7-5.5-0.9-4.9-1.1-4.3-1.1-4.1-1.3-3.2-1.3-3.7-1.9-2.5-1.7-2.9-2.4-2.1-2.4-1.6-2.5-1.2-2.4-0.7-2.5-0.4-2.4-0.1-3.7 0.7-3.6 0.9-2.4 1.3-2.5 1.7-2.4 2.2-2.5 3-2.4 3.6-2.3 2.5-1.4 4.8-1.9 3.7-1.3 3.6-1 5.5-1.2 5.5-0.9 5.5-0.6 5.5-0.4 7.4-0.2 9.1 0.3 9.2 1 8 1.4 8.5 2 7.3 2.4 7.4 3 6.7 3.5 5.5 3.7 3 2.4 2.6 2.5 2.3 2.4 2 2.4 1.7 2.5 1.8 3 1.5 3.1 0.9 2.4 1 3.7 0.3 2.4 0 2.4-0.3 2.5-0.8 2.4-0.7 1.4-1.8 2.3-1.4 1.2M477.3 680.4l-1.7 1.2-2.4 1.2-4 1.4-3.7 0.8-3.7 0.4-7.3 0.3-7.3-0.3-7.4-0.6-42.7-4.4M379 899.8l-5.2-0.9-5.5-1.2-5.5-1.5-3.3-1.3-2.7-1.2-3.1-1.7-2.8-2-2.7-2.4-2.1-2.4-1.5-2.5-1.1-2.4-1-3.7-0.4-2.4 0.1-3.7 0.7-3.6 0.8-2.4 1.2-2.5 1.6-2.4 2-2.5 2.7-2.4 2.5-1.8 3-1.9 2.5-1.2 3.6-1.6 3.7-1.2 5.5-1.6 9.2-1.8 5.5-0.7 5.5-0.5 5.5-0.3 5.5-0.1 9.1 0.3 9.2 0.9 9.2 1.5 7.3 1.7 7.3 2.2 7.4 2.9 6.6 3.2 2.5 1.5 3.7 2.4 2.9 2.2 2.6 2.3 2.6 2.6 2.2 2.4 2.5 3.3 1.9 2.8 2.5 4.9 1.1 2.7 1.1 3.4 0.6 3.6 0.2 2.5-0.1 2.4-0.5 2.4-1 2.5-0.8 1.2M483.5 680.4l-1.5 1.8-1.8 1.6-2.6 1.5-2.9 1.1-3.7 1-3.7 0.6-3.6 0.3-5.5 0.2-7.4-0.2-9.1-0.8-27.5-3.2-25.7-2.6-9.7-1.3M365.5 899.8l-4.5-1.2-3.7-1.3-3.6-1.6-3.6-2-1.9-1.4-2.7-2.3-2.2-2.4-1.6-2.4-1.3-2.5-1.3-3.6-0.6-3.7 0-3.6 0.5-3.7 0.6-2.4 1.5-3.7 1.5-2.4 3-3.7 2.6-2.3 1.8-1.4 3.7-2.2 2.7-1.4 6.4-2.5 3.8-1.1 4.9-1.3 9.7-1.7 11-1.1 11-0.4 9.1 0.2 9.2 0.8 9.2 1.5 8.8 2 7.7 2.3 7.3 2.8 6.8 3.4 5.8 3.6 3.2 2.5 2.5 2.2 2.8 2.7 2.1 2.4 2.5 3.1 1.8 2.7 2.9 5.2 1.2 2.4 1.4 3.7 1 3.6 0.5 2.4 0.3 2.5 0.1 2.4-0.2 2.5-0.6 2.4M488.7 680.4l-1.1 2.4-2 2.5-1.8 1.4-1.7 1-1.9 0.9-3.7 1.2-3.7 0.7-5.5 0.6-5.5 0.2-7.3-0.2-9.2-0.7-31.8-3.9-28.7-2.9-11-1.5-8.4-1.7M355.1 899.8l-3.3-1.3-3.6-1.9-2.6-1.7-2.9-2.4-2.3-2.5-1.8-2.4-1.3-2.4-1-2.5-0.8-2.4-0.6-3.7-0.1-3.6 0.3-3.7 0.8-3.6 0.9-2.5 1.9-3.6 1.7-2.5 2.2-2.4 1.2-1.2 2.5-2 2.6-1.7 2.9-1.6 3.7-1.7 3.7-1.3 3.6-1.2 9.2-2.1 9.2-1.5 11-1 11-0.4 9.1 0.2 9.2 0.7 9.2 1.3 9.1 2 7.4 2.1 7.3 2.7 6.6 3 6.2 3.7 5.5 4.1 4.6 4.4 2.2 2.5 2.4 3 3.7 5.6 1.9 3.6 1.7 3.6 2.2 6.1 1 3.7 0.4 2.4 0.4 3.7-0.1 2.4M493.2 680.4l-0.2 1.7-0.6 2-1.3 2.4-1 1.2-1.4 1.2-3 1.8-3.7 1.4-5.5 1.2-5.5 0.6-7.3 0.2-7.4-0.2-9.1-0.8-34.9-4.3-34.8-3.6-7.3-1-5.5-1.1-5.5-1.4-4.1-1.3M346.5 899.8l-2.2-1.2-3.5-2.5-2.5-2.4-2-2.4-1.6-2.5-1.2-2.4-1-2.4-0.9-3.7-0.5-3.7 0-3.6 0.3-3.7 0.5-2.4 1.1-3.7 1.1-2.4 2.2-3.7 1.9-2.4 2.5-2.4 1.5-1.3 2.3-1.6 3.5-2 5.7-2.5 7.4-2.4 9.1-2 11-1.6 12.8-1.1 11-0.3 9.2 0.2 9.1 0.8 9.2 1.3 9.2 1.9 7.3 2.1 7.3 2.7 7.1 3.3 5.8 3.5 5.5 4.2 4.6 4.5 4.5 5.5 3.7 5.5 3.3 6.1 3.2 7.3 1.2 3.6 1.1 3.7 0.8 3.7 0.3 2.4M497.4 680.4l0 3.7-0.4 2.4-0.5 1.2-0.7 1.2-1 1.3-1.2 1.2-1.9 1.2-2.4 1.1-1.8 0.7-5.5 1.3-7.3 0.9-7.4 0.2-9.1-0.2-9.2-0.7-9.2-1.1-29.3-3.7-29.3-2.8-9.2-1.1-7.3-1.1-7.4-1.6-5.5-1.7-5.3-2.4M338.9 899.8l-2.9-2.4-2.2-2.5-1.8-2.4-1.4-2.5-1.1-2.4-1.1-3.6-0.6-2.5-0.4-3.6-0.1-3.7 0.2-3.7 0.6-3.6 1.1-3.7 1.5-3.6 1.4-2.5 1.7-2.4 2.2-2.4 2.8-2.5 1.6-1.2 2.3-1.4 3.6-1.9 3.7-1.5 3.7-1.3 7.3-2 9.2-1.7 11-1.5 12.8-1 11-0.4 9.2 0.2 9.1 0.7 9.2 1.2 9.2 1.7 7.3 2 7.3 2.5 7.4 3.3 6.1 3.5 4.9 3.5 4.2 3.9 2.3 2.4 2.6 3.1 4 5.4 4.3 7.3 3.5 7.4 3.4 8.5 1.2 3.6 1 3.7M501.3 680.4l0.5 2.4 0.3 2.5 0 2.4-0.3 1.2-0.9 2.5-0.9 1.2-1.2 1.2-1.8 1.2-2.2 1.1-1.8 0.7-3.7 1-3.6 0.7-7.4 0.8-9.1 0.2-9.2-0.3-11-0.8-38.5-4.6-33-3-11-1.3-9.2-1.6-3.6-0.9-3.7-1.1-5.5-2.2-3.7-2-1.9-1.3M332.1 899.8l-2.2-2.4-1.6-2.5-1.3-2.4-1.5-3.7-1-3.6-0.7-3.7-0.3-3.6-0.1-3.7 0.3-3.7 0.6-3.6 0.9-3.7 1.4-3.6 1.2-2.5 1.5-2.4 1.9-2.4 2.4-2.5 1.7-1.4 3.3-2.2 4.7-2.5 3.1-1.2 3.6-1.2 4.3-1.2 4.9-1.1 11-1.9 12.8-1.5 12.8-0.9 11-0.3 11 0.3 9.2 0.7 9.2 1.2 7.3 1.5 9.2 2.5 7.3 2.7 6.1 2.9 3.1 1.6 3.1 2 4.2 3.2 4.5 4.1 4.2 4.9 4.1 5.8 3.9 6.4 3.8 7.3 4.5 9.8 3.4 8.5M454.5 774.4l-1.8-0.2-1.9-0.4-1.8-0.6-3.3-1.4-4-2.3-3.3-2.6-2.3-2.4-0.8-1.2-1-1.8-0.4-1.9 0.1-1.2 0.7-1.2 1.5-1 1.8-0.5 1.8 0 1.9 0.2 3.6 1.1 1.9 0.9 3 1.7 2.5 1.9 1.9 1.8 2.1 2.4 1.5 2.5 0.7 2.4 0 1.2-0.4 1.2-0.3 0.4-1.9 0.9-1.8 0.1M504.9 680.4l1.3 3.7 0.6 2.4 0.4 2.4 0 2.5-0.2 1.2-0.5 1.2-0.7 1.2-1.1 1.2-1.7 1.3-2.5 1.2-2 0.7-3.7 0.9-3.6 0.7-3.7 0.5-5.5 0.4-9.2 0.3-11-0.4-11-0.8-42.1-4.7-36.7-3-7.3-0.8-5.5-0.8-5.5-1-3.7-0.9-3.7-1.1-3.6-1.3-3.7-1.8-1.8-1.1-2.4-1.7-2.7-2.4M325.7 899.8l-1.5-2.4-1.7-3.7-1.3-3.7-0.8-3.6-0.6-3.7-0.2-3.6-0.1-4.9 0.3-3.7 0.5-3.6 0.8-3.7 1.2-3.6 1-2.5 1.3-2.4 1.6-2.4 2-2.5 2.6-2.4 2.7-2 2.9-1.7 5.5-2.4 6.3-2 9.1-2 11-1.7 14.7-1.6 12.8-0.9 12.9-0.3 11 0.2 9.1 0.7 9.2 1.2 7.3 1.4 7.4 1.9 7.3 2.5 3.7 1.5 3.6 1.8 5.9 3.4 4.9 3.6 3.9 3.7 3.7 4.2 3.6 5 3.7 5.8 3.9 6.9 3.7 7.4 7.7 15.8M463.7 784.1l-3.7-0.6-3.7-0.9-3.6-1.3-3.7-1.6-3.7-1.8-3.6-2.1-3.7-2.4-3.7-2.8-2.6-2.4-2.3-2.5-1.9-2.4-1.4-2.5-0.9-2.4-0.3-2.4 0.3-1.8 0.9-1.9 1.2-1.2 1.5-0.9 1.9-0.7 1.8-0.3 1.8-0.1 1.9 0 3.6 0.6 4.9 1.4 4.3 1.9 4.9 3 4.3 3.2 4.3 4.1 4.2 4.9 2.5 3.8 1.1 2.3 1 2.4 0.3 2.4-0.1 1.2-0.4 1.3-1.1 1.2-0.8 0.5-1.9 0.6-1.8 0.2-1.8 0M508.4 680.4l2.2 4.9 1.5 3.6 0.8 2.5 0.4 2.4-0.1 1.2-0.2 1.2-0.6 1.3-0.9 1.2-1.5 1.2-2.4 1.2-3.6 1.2-6.5 1.3-4.5 0.5-5.5 0.5-11 0.3-11-0.3-11-0.8-47.7-4.7-40.3-3-7.3-0.8-5.5-0.8-5.5-1-3.7-0.9-3.7-1.2-3.6-1.5-3.7-2-3.5-2.6-2.4-2.5-1.9-2.4M319.7 899.8l-1.1-2.4-1.1-3.7-0.9-3.7-0.7-4.8-0.4-4.9 0-4.9 0.3-4.9 0.4-3.6 0.7-3.7 1-3.6 1.3-3.7 1.1-2.4 1.5-2.5 1.8-2.4 2.4-2.4 2-1.7 3.1-2 2.4-1.2 5.5-2.1 7.3-2 9.2-1.7 12.8-1.7 16.5-1.5 14.7-0.9 12.8-0.3 11 0.2 9.2 0.7 9.2 1.2 7.3 1.5 7.3 1.9 7.4 2.7 5.5 2.5 5.5 3.2 4.7 3.6 3.8 3.7 3.2 3.6 3.6 4.9 3 4.7 3.7 6.4 10.2 19.4 4.7 8.5M472.8 792.6l-3.6-0.5-5.5-1.3-5.5-1.9-5.5-2.3-5.5-2.8-5.5-3.2-5.5-3.6-5.1-4-4-3.6-3.3-3.7-2.3-3.1-1.7-3-1.2-3.6-0.3-2.5 0.4-2.4 0.4-1.2 0.7-1.2 1.1-1.3 1.7-1.2 2.6-1.1 1.8-0.5 1.8-0.3 3.7-0.1 5.5 0.7 5.5 1.6 3.7 1.4 3.6 1.8 5.5 3.3 5.5 4.1 3.7 3.3 2.9 2.9 3.3 3.6 3 3.7 2.6 3.7 2.4 3.6 2 3.7 0.9 2.4 0.6 2.4 0.1 1.3-0.1 1.2-0.5 1.2-0.7 0.8-1.8 1.1-1.9 0.5-1.8 0.2-3.7-0.1M520.5 699.1l-0.1 0.8-0.6 1.2-1.1 1.3-2.1 1.2-1.6 0.6-3.7 1-5.5 0.9-9.1 0.9-7.4 0.5-9.1 0.1-9.2-0.2-11-0.6-51.3-4.4-49.5-3.2-7.4-0.8-7.3-1.2-5.5-1.4-5.5-2-4.4-2.4-2.9-2.2-1.6-1.5-2.9-3.6-2-3.7M511.7 680.4l7.1 12.2 1.4 3.6 0.3 1.7M313.9 899.8l-0.9-3.7-0.7-3.6-0.6-4.9-0.3-4.9-0.1-4.8 0.1-4.9 0.4-4.9 0.7-4.9 0.7-3.6 1-3.7 1.4-3.6 1.2-2.5 1.5-2.4 2-2.4 2.2-2.1 1.8-1.3 2.5-1.5 2.6-1.2 3.2-1.3 2.7-0.8 7.3-1.6 9.2-1.4 14.7-1.6 22-1.8 16.5-0.9 12.8-0.2 11 0.2 9.2 0.7 7.3 1 9.2 1.9 7.3 2.2 5.5 2.1 5.5 2.8 5.5 3.5 3.7 3.2 2.9 2.9 3 3.7 3.3 4.7 5.5 9.4 12.1 22.4 2.9 4.9 3.1 4.9M480.2 801.2l-5.5-1.2-7.4-2.2-5.5-2.1-7.3-3.3-5.5-2.9-7.3-4.4-7.4-5.1-5.7-4.5-5.3-4.8-3.4-3.8-2-2.4-1.7-2.4-2-3.7-1.3-3.6-0.4-2.5-0.1-1.2 0.3-2.4 0.4-1.3 0.5-1.2 0.8-1.2 1.6-1.7 1.8-1.2 1.9-0.9 3.6-1 1.9-0.3 3.6-0.1 3.7 0.2 3.7 0.6 3.6 0.9 3.7 1.2 3.7 1.4 3.6 1.7 3.7 2 3.7 2.3 3.6 2.7 3.7 2.9 4.3 3.9 4.9 4.9 5.4 6.1 4 4.9 5.6 7.3 4.3 6.1 2.3 3.6 1.2 2.5 0.4 1.2 0.3 1.2-0.1 1.2-0.7 1.3-0.7 0.5-1.9 0.9-1.8 0.4-3.7 0.3-3.6-0.2-5.5-0.6M520.5 708.4l-11 1.1-12.8 0.7-11 0.3-11-0.2-14.7-0.8-29.2-2.3-18.4-1.2-55.1-2.8-7.3-0.6-5.5-0.6-7.3-1.3-5.5-1.6-4.2-1.6-2.2-1.3-1.8-1.2-2.9-2.4-1.8-2-1.1-1.7-2-3.6-1.8-4.9M514.8 680.4l5.7 7.9M308.2 899.8l-0.6-4.9-0.4-4.9-0.3-10.9 0.4-11 0.5-4.9 0.6-4.8 0.8-3.7 0.9-3.7 0.9-2.4 1.1-2.4 1.5-2.5 1.6-2 1.6-1.6 2-1.6 1.9-1.1 2-1 5.3-1.8 5.5-1.1 9.2-1.2 14.6-1.3 40.4-2.8 14.6-0.8 12.9-0.2 9.1 0.1 9.2 0.7 7.3 0.9 7.4 1.5 3.6 0.9 3.7 1.2 5.5 2.3 5.5 3 3.7 2.7 2.3 2 3.2 3.2 2.3 2.9 3.2 4.6 3.6 6.3 9.6 18.4 4.7 8.5 4.5 7.3 4.3 6.1M520.5 811.4l-9.2 0.3-9.1-0.3-9.2-0.8-7.3-1.2-7.4-1.7-7.3-2.4-7.3-3-7.4-3.7-9.1-5.4-5.5-3.6-5.5-3.9-9.2-7.2-3.7-3.3-3.5-3.4-3.4-3.6-2.1-2.5-2.7-3.6-1.5-2.5-1.8-3.6-0.9-2.5-0.5-2.4-0.3-2.4 0.2-2.5 0.6-2.4 1.3-2.3 1.1-1.4 2.5-2 1.9-1 1.8-0.7 3.7-0.9 3.6-0.4 3.7 0.1 3.7 0.3 3.6 0.7 3.7 0.8 3.7 1.2 3.6 1.3 3.7 1.6 5.5 2.8 5.5 3.5 5 3.7 4.2 3.4 4.2 3.9 4.9 4.9 18.4 20.2 6.6 6.6 4.4 3.9 3.6 2.9 7.4 5.1 1.8 0.8M520.5 712.7l-29.3 0.7-9.2 0-7.3-0.2-42.2-2.5-82.5-3.3-9.2-0.6-6.5-0.8-6.3-1.3-3.7-1.1-1.8-0.7-3.7-1.9-2.8-2.3-1.2-1.2-1.5-1.9-1-1.8-1.2-2.4-1.6-4.9-1.3-6.1M517.9 680.4l2.6 3.3M302.7 899.8l-0.3-14.6 0.1-15.9 0.4-12.2 0.8-8.5 1.2-6.1 1.4-3.6 1.5-2.5 1.2-1.2 2.5-1.9 1.8-0.9 3.7-1.2 3.7-0.7 5.5-0.6 7.3-0.4 33-1.1 12.8-0.7 38.5-2.6 11-0.6 11-0.2 7.4 0.1 7.3 0.4 7.3 0.9 3.7 0.8 5.5 1.8 3.7 1.7 3.6 2.3 3.7 3 1.8 1.8 2.7 3 2.8 3.8 1.9 3 3.6 6.8 8.7 18.1 5.1 9.7 2.8 4.9 3.1 4.9 2.6 3.6 3.4 4.5M520.5 818.1l-23.8-0.1-7.4-0.4-5.5-0.6-5.5-1.1-5.5-1.8-5.5-2.5-5.5-3.1-5.5-3.5-5.5-3.7-7.3-5.4-7.3-5.7-11-9-5.5-5-4.4-4.4-3.4-3.6-3-3.7-2.6-3.7-2.3-3.6-1.7-3.7-0.9-2.4-0.9-3.7-0.2-2.4 0.1-2.4 0.5-2.5 1-2.4 1.6-2.5 1.5-1.5 1.8-1.5 1.9-1 3.6-1.4 3.7-0.7 3.7-0.2 3.6 0.2 3.7 0.5 7.3 1.7 3.7 1.1 5.5 2 5.5 2.5 7.3 4 5.5 3.6 5.5 4.1 4.3 3.7 5.2 4.9 6.1 6.1 12.7 13.4 4.7 4.7 3.7 3.4 5 4.1 4.2 3 5.5 3.4 1.8 0.7M520.5 716.2l-9.2-0.1-20.1 0.4-9.2 0-9.2-0.2-22-1-11-0.2-9.1 0.1-16.5 0.4-7.4 0-7.3-0.3-16.5-1.3-11-0.6-40.3-1.1-7.4-0.6-5.5-0.7-3.6-0.8-1.7-0.5-2.7-1.3-1.7-1.2-1.2-1.2-1.6-2.4-1.4-3.7-1-4.9-0.7-6.1-0.5-8.5M333.7 825.4l7.1 0.6 9.2 0.4 9.2 0.1 11-0.2 9.1-0.4 11-0.8 29.4-2.7 15.7-1.8 6.9-1.2 3-0.9 1.3-0.4 2.4-1.1 1.5-1.3 0.6-1.2 0-1.2-0.3-1.3-1.2-2.4-1.8-2.4-2.1-2.5-6.2-6.1-18-16.4-8.3-7.9-6.8-7.4-3-3.6-2.7-3.7-2.4-3.6-1.4-2.5-1.7-3.6-1-2.5-1-3.6-0.7-3.7-0.5-8.5-0.4-2.4-0.4-1.3-0.7-1.2-1.1-1.2-0.9-0.7-3.2-1.7-4.1-1.4-5.5-1.1-9.2-1.1-9.2-0.5-11-0.1-9.1 0.3-9.2 0.6-5.5 0.8-3.7 0.7-3.6 1.3-1.9 0.9-1.8 1.2-2.1 2-1.6 2.5-1.5 3.6-0.9 3.7-0.9 4.8-0.6 6.1-0.4 7.4-0.3 9.7-0.1 9.8 0.1 9.7 0.4 8.5 0.7 9.8 0.6 3.6 0.7 3.7 0.7 2.4 0.9 2.5 1.4 2.4 1.1 1.3 1.1 1.2 1.8 1.2 2.4 1.2 2 0.7 3.7 1 3.8 0.7 9.2 1.2M520.5 822.3l-7.3 0.6-7.4 0.9-5.5 1-3.6 1.1-1.8 0.8-1.9 1.2-1.1 1.2-0.6 1.2-0.2 1.2 0 1.3 0.7 3.6 1.7 4.9 6.9 18.3 4.1 9.7 3.6 7.3 4.1 7.4 3.9 6 4.4 6M520.5 719.3l-11 0-23.8 0.7-23.9 0-7.3 0.2-5.5 0.5-5.1 1.1-2 1.3-0.4 1.2 0.5 1.2 1 1.2 1.5 1.2 15.5 10.3 5.5 4.2 5.5 4.6 4.4 4.1 4.8 4.7 18.3 19 7.3 6.8 4.5 3.6 4.7 3.4 3.7 2.4 1.8 0.6M520.5 825.9l-5.5 0.9-4.2 1.1-3.5 1.2-3.3 1.8-2.2 1.9-1 1.2-0.6 1.2-0.8 2.4-0.2 3.7 0.5 4.9 1.5 7.3 2.2 7.3 2.3 6.1 2.8 6.1 3.8 7.3 3.7 6.1 4.5 6.4M361.8 824.2l8.4 0 7.3-0.2 16.5-1.1 10-1.1 9.2-1.2 7.3-1.2 5.5-1.3 4.2-1.2 3-1.2 2.2-1.2 1.4-1.2 0.9-1.3 0.5-1.2 0.1-1.2 0-1.2-0.8-2.5-1.3-2.4-1.6-2.4-2-2.5-3.2-3.6-4.7-4.9-17.2-17.1-4.7-4.8-4.3-4.9-3.9-4.9-3.5-4.9-3.1-4.8-5-8.7-1.8-2.9-2.6-3.1-2.9-2.4-3.7-2-1.8-0.7-3.7-1.1-3.7-0.8-3.6-0.5-7.4-0.5-9.1 0.1-6.9 0.6-6 1.1-3.6 1-1.9 0.7-3.6 1.8-2.2 1.5-2.5 2.4-1.8 2.5-1.4 2.4-1.5 3.7-1.1 3.6-1 4.9-0.9 6.1-0.5 7.3-0.2 8.6 0.2 7.3 0.6 7.3 0.8 6.1 1 4.9 1.6 4.8 1.1 2.5 1.5 2.4 1.9 2.4 1.2 1.3 3.2 2.5 1.9 1.1 3.6 1.7 3.6 1.4 3.7 1 7.3 1.5 9.2 1.1 11.8 0.6M520.5 722.2l-7.3 0.1-7.4 0.3-25.6 1.8-7.4 0.6-3.6 0.6-4.2 1.1-1.8 1.2-0.7 1.3 0 1.2 0.5 1.2 0.7 1.2 1.9 2.4 14.6 15.3 18.7 20.1 6.2 6.1 5.8 4.9 4.1 3.1 3.7 2.5 1.8 0.7M520.5 829.3l-3.6 1-3.7 1.5-1.9 1-1.8 1.1-1.8 1.7-1.6 2-1.2 2.5-0.8 3.6-0.2 3.7 0.3 4.9 0.9 4.8 1.3 4.9 2.1 6.1 2.1 4.9 3.1 6.1 3.1 5.3 3.7 5.3M361.6 821.8l6.7 0.2 5.5 0 7.4-0.2 7.3-0.6 7.3-0.7 8.3-1.1 6.7-1.3 5.1-1.2 3.9-1.2 3-1.2 2.3-1.2 1.9-1.6 0.9-0.9 0.7-1.2 0.5-1.2 0.2-1.2 0-1.3-0.6-2.4-1-2.4-2.3-3.7-2.8-3.6-4.3-4.9-23.9-24.4-16.9-18.5-3.7-3.4-3.2-2.5-4.1-2.3-3.7-1.5-3.6-1.1-5.5-1-5.5-0.4-5.5 0.2-5.5 0.7-5.5 1.4-3.7 1.5-2.2 1.3-3.2 2.4-1.9 2.1-1.9 2.5-1.8 3.4-1.2 3-1.1 3.7-1 4.8-0.6 4.9-0.4 6.1 0 6.1 0.4 6.1 0.7 4.9 1 4.9 1.1 3.6 1 2.5 1.1 2.4 1.5 2.4 1.8 2.5 1.2 1.4 2.4 2.2 3.1 2.3 2.3 1.4 5.2 2.4 3.5 1.2 4.5 1.3 4.7 0.9 3.6 0.6 9.8 0.9M520.5 725.1l-7.3 0.3-9.2 0.9-11.4 1.6-6.3 1.3-4.2 1.2-2.6 1.2-1.5 1.2-0.7 1.2-0.3 1.2 0.1 1.3 0.8 2.4 1.3 2.4 1.6 2.5 2.6 3.6 3.9 4.9 9.2 11 6.9 7.3 6.4 6.1 4.4 3.6 4.5 3.3 1.8 0.8M520.5 832.8l-3 1.2-2.5 1.4-2.7 2.2-2 2.5-1.2 2.4-0.9 2.5-0.5 2.4-0.2 3.6 0.1 3.7 0.7 4.9 0.9 3.6 1.5 4.9 2 4.9 2.4 4.9 2.1 3.6 3.3 5.1M364.4 819.4l5.8 0.2 5.5 0.1 7.3-0.3 5.5-0.5 6.7-0.8 6.1-1 6.1-1.4 3.9-1.2 3-1.2 2.3-1.3 1.8-1.2 1.3-1.2 0.9-1.2 0.6-1.2 0.3-1.3 0.1-1.2-0.2-2.4-0.8-2.4-2-3.7-3.5-4.9-4.2-4.9-5.9-6.1-11-10.6-12.8-11.8-5.5-4.6-5.5-4-3.7-2.1-3.7-1.8-3.6-1.3-5.5-1.3-5.5-0.5-3.7 0-5.5 0.8-3.7 1.1-3.6 1.7-1.9 1.2-1.8 1.4-1.8 1.8-1.9 2.3-1.8 3.1-1.2 2.7-1.2 3.7-0.8 3.6-0.6 4.9-0.2 3.7 0 4.8 0.3 3.9 0.8 4.7 0.9 3.6 1.2 3.7 1.1 2.4 1.3 2.5 1.5 2.4 1.9 2.4 3.7 3.7 2.3 1.7 3 1.9 4.9 2.5 3.2 1.2 4.1 1.2 6.8 1.4 8.9 1.1M520.5 728l-7.3 0.7-5.5 0.9-7.4 1.7-4.6 1.5-2.8 1.2-2 1.2-1.3 1.3-0.9 1.2-0.5 1.2-0.2 1.2 0 1.2 0.5 2.5 0.9 2.4 1.3 2.5 3.9 6.1 4.6 6 5.2 6.1 5.9 6.1 4.1 3.7 4.3 3.4 1.8 0.8M520.5 836.3l-2.2 1.3-2.8 2.5-1 1.2-1.6 2.4-1 2.5-0.8 2.4-0.4 2.4-0.2 3.7 0.1 2.4 0.4 3.7 0.8 3.7 1.1 3.6 1.4 3.7 1.7 3.6 1.9 3.7 2.6 4.3M370.2 816.9l5.5 0.1 5.3-0.1 9.3-0.8 3.7-0.6 5.5-1.2 3.7-1 3.6-1.5 2.1-1 1.8-1.2 1.6-1.5 0.8-0.9 0.7-1.3 0.5-1.2 0.2-1.2-0.1-2.4-0.6-2.5-1.1-2.4-2.2-3.7-3.9-4.8-5.3-5.7-5.5-5.2-7.3-6.4-7.3-5.8-5.5-4-5.5-3.4-5.5-2.7-3.7-1.4-5.5-1.5-3.7-0.5-3.6-0.1-3.7 0.4-3.7 0.8-3.6 1.6-1.9 1.1-1.8 1.4-1.8 1.8-1.9 2.4-2.1 4-1.2 3.7-0.6 2.4-0.3 2.4-0.3 3.7 0.1 3.6 0.4 3.7 0.4 2.4 1 3.7 0.8 2.5 1.6 3.6 1.4 2.4 1.7 2.5 3.2 3.6 2.8 2.5 1.6 1.2 4.1 2.4 2.5 1.2 3.1 1.3 5.5 1.6 3.7 0.8 3.6 0.5 7.4 0.7M520.5 731.1l-3.7 0.6-5.5 1.2-5.5 1.9-3.3 1.7-2.2 1.4-1.1 1-1 1.2-0.7 1.2-0.5 1.3-0.3 2.4 0.1 1.2 0.6 2.5 1.4 3.6 2 3.7 3.3 4.8 3.8 4.9 4.5 4.9 6.3 5.8 1.8 1M520.5 840.2l-1.8 1.6-1.6 1.9-0.8 1.3-1.2 2.4-0.9 2.4-0.5 2.5-0.3 2.4-0.1 2.4 0.4 4.9 0.4 2.5 1 3.6 2.4 6.1 3 5.9M366.2 813.3l4 0.4 5.5 0.3 3.6-0.1 5.5-0.3 3.7-0.5 5.3-1.1 3.9-1.1 1.8-0.8 3.4-1.7 1.6-1.2 1.1-1.3 0.9-1.2 0.5-1.2 0.4-2.4-0.2-2.5-0.9-2.4-1.9-3.7-2.7-3.6-4-4.4-3.7-3.5-3.7-3.2-5.5-4.3-5.5-3.7-5.5-3.3-5.5-2.8-3.6-1.4-3.7-1.1-3.7-0.7-3.6-0.4-3.7 0.2-2.8 0.5-2.7 1-2.8 1.5-1.6 1.2-1.2 1.2-1.7 2.2-0.9 1.5-1 2.1-0.5 1.5-0.6 2.5-0.3 2.4-0.1 2.4 0.1 2.5 0.7 4.9 0.7 2.4 0.8 2.4 1.8 3.7 2.4 3.7 3.3 3.6 2.9 2.4 3.9 2.5 5.1 2.2 4.6 1.4 6.1 1.3M520.5 734.5l-3.7 1.1-3.6 1.4-3.5 1.9-1.6 1.2-1.3 1.2-0.9 1.3-0.8 1.2-0.8 2.4-0.1 2.5 0.3 2.4 1.2 3.7 1.2 2.4 2.1 3.6 2.6 3.7 3 3.7 4.1 4.2 1.8 1.1M520.5 844.7l-1.9 2.7-1.5 3.6-0.9 3.7-0.3 3.7 0.2 3.6 0.9 4.9 1.5 4.9 2 4.5M370.3 809.6l3.5 0.3 3.7 0.2 5.5-0.3 3.7-0.6 3.3-0.8 4-1.6 1.8-1.1 1.9-1.7 1.1-1.7 0.5-1.2 0.2-1.2-0.2-2.5-0.3-1.2-1.1-2.4-1.5-2.5-2.4-2.9-1.9-2-3.6-3.2-3.7-2.8-3.6-2.5-3.7-2.1-3.7-1.9-3.6-1.5-3.7-1.2-3.7-0.8-1.8-0.2-3.7 0-1.8 0.2-1.8 0.5-1.9 0.7-2.3 1.4-1.3 1.2-1.1 1.3-1.4 2.4-0.5 1.2-0.6 2.5-0.2 2.4 0.1 3.7 0.8 3.6 1.4 3.7 1.4 2.4 1.9 2.5 2.5 2.4 3.3 2.4 3.4 1.8 3.6 1.4 3.7 1 3.8 0.7M520.5 738.6l-3 1.5-1.8 1.2-1.4 1.3-1.1 1.2-0.9 1.2-1.1 2.4-0.3 1.3-0.1 2.4 0.3 2.4 0.6 2.5 1 2.4 1.3 2.4 1.5 2.5 3.2 4.3 1.8 1.5M520.5 850.3l-0.8 2-0.7 2.4-0.4 2.4-0.2 3.7 0.1 2.4 0.4 2.5 0.6 2.4 1 3.3M373.2 803.5l4.3 0.3 3.7-0.4 3.5-1.1 1.9-1.2 1-1.2 0.6-1.3 0.2-1.2-0.1-1.2-0.9-2.4-0.8-1.3-1-1.2-2.6-2.5-3.7-2.5-3.6-1.8-3.7-1.2-3.7-0.5-1.8 0-1.8 0.4-1.9 0.7-1.8 1.3-1 1.2-0.6 1.3-0.4 1.2-0.2 1.2 0.2 2.4 0.8 2.5 1.6 2.4 1.4 1.5 1.9 1.4 1.8 1.1 2 0.9 1.7 0.5 3 0.7M520.5 744.1l-1.8 2.1-0.7 1.2-0.9 2.5-0.3 2.4 0.1 2.5 1 3.6 1 2.4 1.6 2.3" fill="none" stroke="#000" stroke-width="1" stroke-linejoin="round"/>
</g>
<g font-family='"Liberation Sans", sans-serif' font-size="11.2" fill="#000" text-anchor="middle">
<g transform="translate(328.3 699.7) rotate(18)"><rect x="-9.6" y="-5.6" width="19.2" height="11.2" fill="#5eff00"/><text x="0" y="4" textLength="16" lengthAdjust="spacingAndGlyphs">0.4</text></g>
<g transform="translate(429 702.5) rotate(0)"><rect x="-9.6" y="-5.6" width="19.2" height="11.2" fill="#5eff00"/><text x="0" y="4" textLength="16" lengthAdjust="spacingAndGlyphs">0.4</text></g>
<g transform="translate(448.9 741.1) rotate(18)"><rect x="-9.6" y="-5.6" width="19.2" height="11.2" fill="#5eff00"/><text x="0" y="4" textLength="16" lengthAdjust="spacingAndGlyphs">0.4</text></g>
<g transform="translate(405 751.8) rotate(-52)"><rect x="-9.6" y="-5.6" width="19.2" height="11.2" fill="#5eff00"/><text x="0" y="4" textLength="16" lengthAdjust="spacingAndGlyphs">0.4</text></g>
<g transform="translate(378.6 796) rotate(52)"><rect x="-9.6" y="-5.6" width="19.2" height="11.2" fill="#00ff73"/><text x="0" y="4" textLength="16" lengthAdjust="spacingAndGlyphs">0.6</text></g>
<g transform="translate(484 803.5) rotate(8)"><rect x="-9.6" y="-5.6" width="19.2" height="11.2" fill="#5eff00"/><text x="0" y="4" textLength="16" lengthAdjust="spacingAndGlyphs">0.4</text></g>
<g transform="translate(358.8 831.8) rotate(0)"><rect x="-9.6" y="-5.6" width="19.2" height="11.2" fill="#5eff00"/><text x="0" y="4" textLength="16" lengthAdjust="spacingAndGlyphs">0.4</text></g>
<g transform="translate(458.2 836.5) rotate(25)"><rect x="-9.6" y="-5.6" width="19.2" height="11.2" fill="#5eff00"/><text x="0" y="4" textLength="16" lengthAdjust="spacingAndGlyphs">0.4</text></g>
<g transform="translate(386.1 847.4) rotate(0)"><rect x="-9.6" y="-5.6" width="19.2" height="11.2" fill="#ffdc1e"/><text x="0" y="4" textLength="16" lengthAdjust="spacingAndGlyphs">0.2</text></g>
<g transform="translate(472.7 880.7) rotate(70)"><rect x="-9.6" y="-5.6" width="19.2" height="11.2" fill="#ffdc1e"/><text x="0" y="4" textLength="16" lengthAdjust="spacingAndGlyphs">0.2</text></g>
</g>
<path d="M300.5 680.4v-7.3M300.5 899.8v7.3M307.5 680.4v-4.3M307.5 899.8v4.3M315.5 680.4v-4.3M315.5 899.8v4.3M322.5 680.4v-4.3M322.5 899.8v4.3M329.5 680.4v-4.3M329.5 899.8v4.3M337.5 680.4v-7.3M337.5 899.8v7.3M344.5 680.4v-4.3M344.5 899.8v4.3M351.5 680.4v-4.3M351.5 899.8v4.3M359.5 680.4v-4.3M359.5 899.8v4.3M366.5 680.4v-4.3M366.5 899.8v4.3M373.5 680.4v-7.3M373.5 899.8v7.3M381.5 680.4v-4.3M381.5 899.8v4.3M388.5 680.4v-4.3M388.5 899.8v4.3M395.5 680.4v-4.3M395.5 899.8v4.3M403.5 680.4v-4.3M403.5 899.8v4.3M410.5 680.4v-7.3M410.5 899.8v7.3M417.5 680.4v-4.3M417.5 899.8v4.3M425.5 680.4v-4.3M425.5 899.8v4.3M432.5 680.4v-4.3M432.5 899.8v4.3M439.5 680.4v-4.3M439.5 899.8v4.3M447.5 680.4v-7.3M447.5 899.8v7.3M454.5 680.4v-4.3M454.5 899.8v4.3M461.5 680.4v-4.3M461.5 899.8v4.3M469.5 680.4v-4.3M469.5 899.8v4.3M476.5 680.4v-4.3M476.5 899.8v4.3M483.5 680.4v-7.3M483.5 899.8v7.3M491.5 680.4v-4.3M491.5 899.8v4.3M498.5 680.4v-4.3M498.5 899.8v4.3M505.5 680.4v-4.3M505.5 899.8v4.3M513.5 680.4v-4.3M513.5 899.8v4.3M520.5 680.4v-7.3M520.5 899.8v7.3M300.5 680.5h-8M520.5 680.5h6.8M300.5 692.5h-4.3M520.5 692.5h4.3M300.5 704.5h-4.3M520.5 704.5h4.3M300.5 716.5h-8M520.5 716.5h6.8M300.5 729.5h-4.3M520.5 729.5h4.3M300.5 741.5h-4.3M520.5 741.5h4.3M300.5 753.5h-8M520.5 753.5h6.8M300.5 765.5h-4.3M520.5 765.5h4.3M300.5 777.5h-4.3M520.5 777.5h4.3M300.5 790.5h-8M520.5 790.5h6.8M300.5 802.5h-4.3M520.5 802.5h4.3M300.5 814.5h-4.3M520.5 814.5h4.3M300.5 826.5h-8M520.5 826.5h6.8M300.5 838.5h-4.3M520.5 838.5h4.3M300.5 851.5h-4.3M520.5 851.5h4.3M300.5 863.5h-8M520.5 863.5h6.8M300.5 875.5h-4.3M520.5 875.5h4.3M300.5 887.5h-4.3M520.5 887.5h4.3M300.5 899.5h-8M520.5 899.5h6.8" stroke="#000" stroke-width="1" fill="none"/>
<rect x="300.5" y="680.4" width="220.0" height="219.4" fill="none" stroke="#000" stroke-width="2.8"/>
<path d="M413.4 864.5L415.1 869.8L420.7 869.8L416.2 873.1L417.9 878.4L413.4 875.1L408.9 878.4L410.6 873.1L406.1 869.8L411.7 869.8z" fill="#000"/>
<g font-family='"Liberation Sans", sans-serif' fill="#000" font-size="17.6" lengthAdjust="spacingAndGlyphs">
<text x="284.2" y="686.8" text-anchor="end" textLength="21.0" lengthAdjust="spacingAndGlyphs">90</text>
<text x="284.2" y="723.4" text-anchor="end" textLength="21.0" lengthAdjust="spacingAndGlyphs">60</text>
<text x="284.2" y="759.9" text-anchor="end" textLength="21.0" lengthAdjust="spacingAndGlyphs">30</text>
<text x="284.2" y="796.5" text-anchor="end" textLength="10.5" lengthAdjust="spacingAndGlyphs">0</text>
<text x="284.2" y="833.1" text-anchor="end" textLength="27.3" lengthAdjust="spacingAndGlyphs">-30</text>
<text x="284.2" y="869.6" text-anchor="end" textLength="27.3" lengthAdjust="spacingAndGlyphs">-60</text>
<text x="284.2" y="906.2" text-anchor="end" textLength="27.3" lengthAdjust="spacingAndGlyphs">-90</text>
<text x="300.2" y="928.3" text-anchor="middle" textLength="26.3" lengthAdjust="spacingAndGlyphs">0.0</text>
<text x="336.9" y="928.3" text-anchor="middle" textLength="26.3" lengthAdjust="spacingAndGlyphs">0.5</text>
<text x="373.5" y="928.3" text-anchor="middle" textLength="26.3" lengthAdjust="spacingAndGlyphs">1.0</text>
<text x="410.2" y="928.3" text-anchor="middle" textLength="26.3" lengthAdjust="spacingAndGlyphs">1.5</text>
<text x="446.9" y="928.3" text-anchor="middle" textLength="26.3" lengthAdjust="spacingAndGlyphs">2.0</text>
<text x="483.5" y="928.3" text-anchor="middle" textLength="26.3" lengthAdjust="spacingAndGlyphs">2.5</text>
<text x="520.2" y="928.3" text-anchor="middle" textLength="26.3" lengthAdjust="spacingAndGlyphs">3.0</text>
</g>
<g font-family='"Liberation Serif", serif' font-weight="bold" fill="#000" font-size="15">
<text x="290" y="668" textLength="241" lengthAdjust="spacingAndGlyphs"><tspan font-weight="normal">ϕ</tspan>= -68.0 +/- 12.5° <tspan font-weight="normal">δ</tspan>t= 1.55 +/-0.45<tspan font-style="italic">s</tspan></text>
<text x="410.2" y="954.2" text-anchor="middle" textLength="118.4" lengthAdjust="spacingAndGlyphs">Splitting time (s)</text>
<text transform="translate(246.3 790) rotate(-90)" text-anchor="middle" textLength="160" lengthAdjust="spacingAndGlyphs">Fast direction (degree)</text>
</g>
<text x="207.6" y="980" font-family='"Liberation Sans", sans-serif' font-size="17.6" textLength="405" lengthAdjust="spacingAndGlyphs">Ror= 1.89; Rot= 1.53; Rct= 1.38; Rct/Rot= 0.90</text>
</svg>
</body></html>
